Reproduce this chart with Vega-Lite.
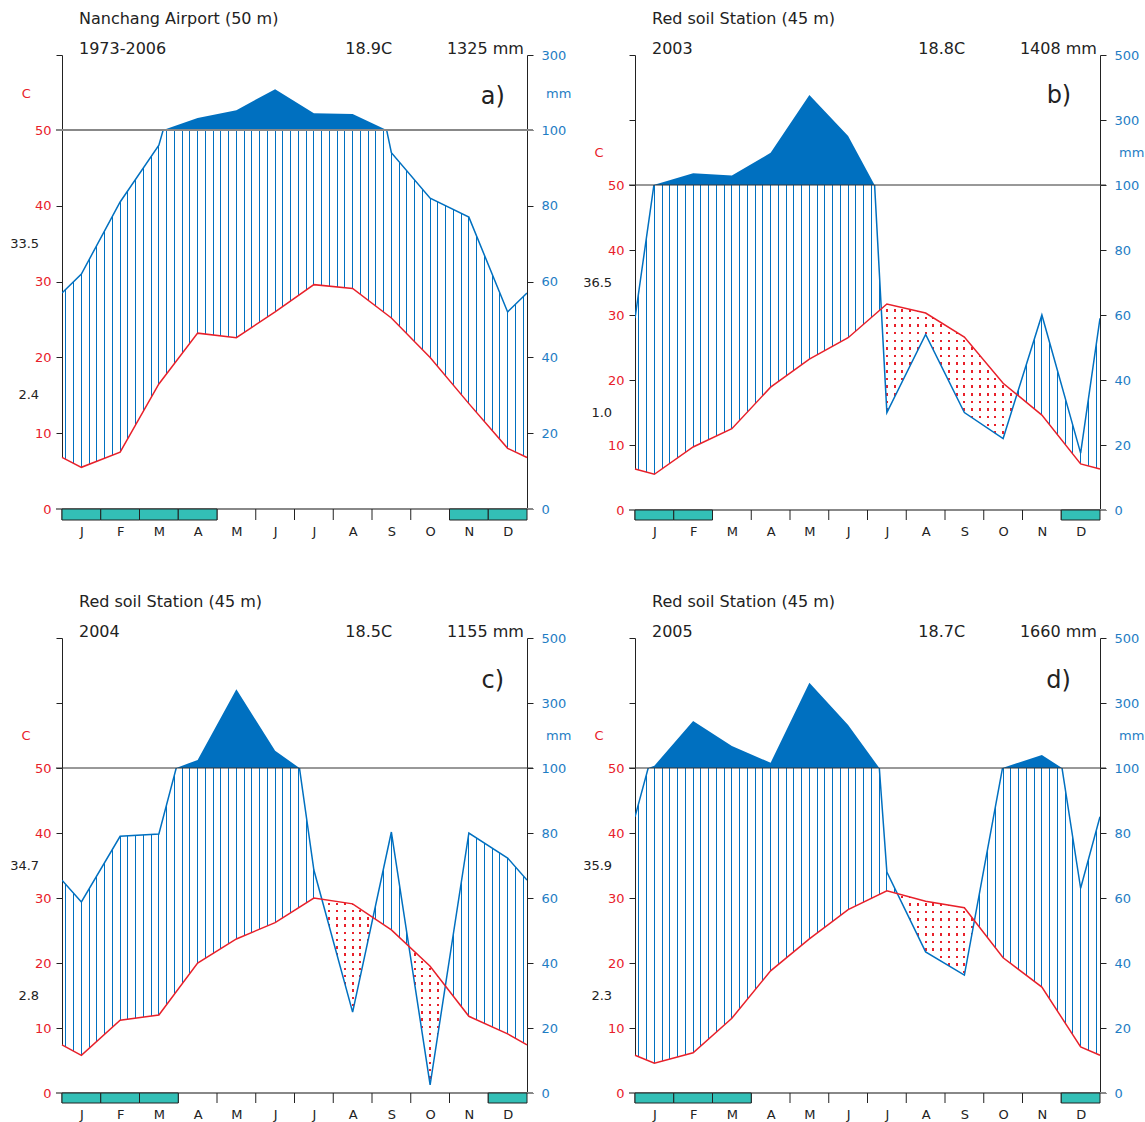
{
"$schema": "https://vega.github.io/schema/vega-lite/v6.json",
"padding": {"left": 10, "top": 11, "right": 5, "bottom": 5},
"config": {
 "font": "DejaVu Sans",
 "view": {"stroke": null},
 "axis": {"grid": false, "domainColor": "#222222", "tickColor": "#222222", "tickSize": 6, "labelFontSize": 13, "labelPadding": 5, "zindex": 1},
 "axisRight": {"labelPadding": 8},
 "title": {"anchor": "start", "frame": "group", "dx": 17, "offset": -16, "fontSize": 16, "fontWeight": "normal", "color": "#222222", "subtitleFontSize": 16, "subtitleColor": "#222222", "subtitlePadding": 14}
},
"datasets": {
 "a": [{"m":0.5,"T":6.8,"P":57},{"m":1,"T":5.5,"P":62},{"m":2,"T":7.5,"P":81},{"m":3,"T":16.5,"P":96},{"m":4,"T":23.2,"P":132},{"m":5,"T":22.6,"P":153},{"m":6,"T":26,"P":209},{"m":7,"T":29.6,"P":145},{"m":8,"T":29.1,"P":143},{"m":9,"T":25.2,"P":94},{"m":10,"T":20,"P":82},{"m":11,"T":13.9,"P":77},{"m":12,"T":8,"P":52},{"m":12.5,"T":6.8,"P":57}],
 "b": [{"m":0.5,"T":6.3,"P":59},{"m":1,"T":5.5,"P":101},{"m":2,"T":9.7,"P":136},{"m":3,"T":12.5,"P":129},{"m":4,"T":18.9,"P":199},{"m":5,"T":23.2,"P":377},{"m":6,"T":26.5,"P":251},{"m":7,"T":31.7,"P":30},{"m":8,"T":30.3,"P":54},{"m":9,"T":26.6,"P":30},{"m":10,"T":19.5,"P":22},{"m":11,"T":14.6,"P":60},{"m":12,"T":7.1,"P":17.5},{"m":12.5,"T":6.3,"P":59}],
 "c": [{"m":0.5,"T":7.4,"P":65.5},{"m":1,"T":5.8,"P":58.8},{"m":2,"T":11.2,"P":79},{"m":3,"T":12,"P":79.7},{"m":4,"T":20,"P":125},{"m":5,"T":23.7,"P":342},{"m":6,"T":26.2,"P":153},{"m":7,"T":30,"P":68.6},{"m":8,"T":29.1,"P":24.9},{"m":9,"T":25.1,"P":80.3},{"m":10,"T":19.5,"P":2.5},{"m":11,"T":11.8,"P":80},{"m":12,"T":9.1,"P":72.3},{"m":12.5,"T":7.4,"P":65.5}],
 "d": [{"m":0.5,"T":5.8,"P":85},{"m":1,"T":4.6,"P":107},{"m":2,"T":6.2,"P":245},{"m":3,"T":11.5,"P":168},{"m":4,"T":18.8,"P":116},{"m":5,"T":23.7,"P":362},{"m":6,"T":28.2,"P":232},{"m":7,"T":31.1,"P":68},{"m":8,"T":29.5,"P":43.4},{"m":9,"T":28.5,"P":36.3},{"m":10,"T":20.8,"P":101},{"m":11,"T":16.3,"P":140},{"m":12,"T":7.1,"P":63},{"m":12.5,"T":5.8,"P":85}],
 "frostA": [{"m":1},{"m":2},{"m":3},{"m":4},{"m":11},{"m":12}],
 "frostB": [{"m":1},{"m":2},{"m":12}],
 "frostC": [{"m":1},{"m":2},{"m":3},{"m":12}],
 "frostD": [{"m":1},{"m":2},{"m":3},{"m":12}],
 "months": [{"m":1},{"m":2},{"m":3},{"m":4},{"m":5},{"m":6},{"m":7},{"m":8},{"m":9},{"m":10},{"m":11},{"m":12}]
},
"spacing": 56,
"resolve": {"scale": {"x": "independent", "y": "independent"}},
"vconcat": [
{"spacing": 11, "resolve": {"scale": {"x": "independent", "y": "independent"}},
 "hconcat": [
 {"spacing": 0, "bounds": "flush", "resolve": {"scale": {"x": "independent", "y": "independent"}},
  "vconcat": [
  {"width": 465, "height": 75,
   "title": {"text": "Nanchang Airport (50 m)", "subtitle": "1973-2006"},
   "data": {"name": "a"},
   "encoding": {"x": {"field": "m", "type": "quantitative", "scale": {"domain": [0.5, 12.5]}, "axis": null}},
   "resolve": {"scale": {"y": "independent"}},
   "layer": [
    {"mark": {"type": "area", "clip": true, "color": "#0070C0"}, "encoding": {"y": {"field": "P", "type": "quantitative", "scale": {"domain": [100, 300]}, "axis": {"orient": "right", "values": [300], "labelColor": "#1E7DC4", "title": null}}, "y2": {"datum": 100}}},
    {"transform": [{"filter": "datum.m == 1"}], "mark": {"type": "text", "align": "right", "baseline": "alphabetic", "fontSize": 16, "color": "#222222"}, "encoding": {"x": {"datum": 9.02, "type": "quantitative", "scale": {"domain": [0.5, 12.5]}, "axis": null}, "y": {"datum": 302, "type": "quantitative", "scale": {"domain": [100, 300]}, "axis": {"orient": "left", "values": [300], "labels": false, "title": null}}, "text": {"value": "18.9C"}}},
    {"transform": [{"filter": "datum.m == 1"}], "mark": {"type": "text", "align": "right", "baseline": "alphabetic", "fontSize": 16, "color": "#222222"}, "encoding": {"x": {"datum": 12.42, "type": "quantitative", "scale": {"domain": [0.5, 12.5]}, "axis": null}, "y": {"datum": 302, "type": "quantitative", "scale": {"domain": [100, 300]}, "axis": null}, "text": {"value": "1325 mm"}}},
    {"transform": [{"filter": "datum.m == 1"}], "mark": {"type": "text", "align": "center", "baseline": "middle", "fontSize": 24, "color": "#222222"}, "encoding": {"x": {"datum": 11.62, "type": "quantitative", "scale": {"domain": [0.5, 12.5]}, "axis": null}, "y": {"datum": 189, "type": "quantitative", "scale": {"domain": [100, 300]}, "axis": null}, "text": {"value": "a)"}}},
    {"transform": [{"filter": "datum.m == 1"}], "mark": {"type": "text", "align": "center", "baseline": "middle", "fontSize": 13, "color": "#E8202A"}, "encoding": {"x": {"datum": -0.42, "type": "quantitative", "scale": {"domain": [0.5, 12.5]}, "axis": null}, "y": {"datum": 197, "type": "quantitative", "scale": {"domain": [100, 300]}, "axis": null}, "text": {"value": "C"}}},
    {"transform": [{"filter": "datum.m == 1"}], "mark": {"type": "text", "align": "center", "baseline": "middle", "fontSize": 13, "color": "#1E7DC4"}, "encoding": {"x": {"datum": 13.32, "type": "quantitative", "scale": {"domain": [0.5, 12.5]}, "axis": null}, "y": {"datum": 197, "type": "quantitative", "scale": {"domain": [100, 300]}, "axis": null}, "text": {"value": "mm"}}}
   ]},
  {"width": 465, "height": 379,
   "data": {"name": "a"},
   "encoding": {"x": {"field": "m", "type": "quantitative", "scale": {"domain": [0.5, 12.5]}, "axis": null}},
   "resolve": {"scale": {"y": "independent"}},
   "layer": [
    {"mark": {"type": "area", "clip": true, "fill": {"gradient": "linear", "x1": 0, "y1": 0, "x2": 1, "y2": 0, "stops": [
{"offset":0.00725,"color":"#0000"},{"offset":0.00725,"color":"#0070C0"},{"offset":0.00941,"color":"#0070C0"},{"offset":0.00941,"color":"#0000"},
{"offset":0.02392,"color":"#0000"},{"offset":0.02392,"color":"#0070C0"},{"offset":0.02608,"color":"#0070C0"},{"offset":0.02608,"color":"#0000"},
{"offset":0.04059,"color":"#0000"},{"offset":0.04059,"color":"#0070C0"},{"offset":0.04275,"color":"#0070C0"},{"offset":0.04275,"color":"#0000"},
{"offset":0.05725,"color":"#0000"},{"offset":0.05725,"color":"#0070C0"},{"offset":0.05941,"color":"#0070C0"},{"offset":0.05941,"color":"#0000"},
{"offset":0.07392,"color":"#0000"},{"offset":0.07392,"color":"#0070C0"},{"offset":0.07608,"color":"#0070C0"},{"offset":0.07608,"color":"#0000"},
{"offset":0.09059,"color":"#0000"},{"offset":0.09059,"color":"#0070C0"},{"offset":0.09275,"color":"#0070C0"},{"offset":0.09275,"color":"#0000"},
{"offset":0.10725,"color":"#0000"},{"offset":0.10725,"color":"#0070C0"},{"offset":0.10941,"color":"#0070C0"},{"offset":0.10941,"color":"#0000"},
{"offset":0.12392,"color":"#0000"},{"offset":0.12392,"color":"#0070C0"},{"offset":0.12608,"color":"#0070C0"},{"offset":0.12608,"color":"#0000"},
{"offset":0.14059,"color":"#0000"},{"offset":0.14059,"color":"#0070C0"},{"offset":0.14275,"color":"#0070C0"},{"offset":0.14275,"color":"#0000"},
{"offset":0.15725,"color":"#0000"},{"offset":0.15725,"color":"#0070C0"},{"offset":0.15941,"color":"#0070C0"},{"offset":0.15941,"color":"#0000"},
{"offset":0.17392,"color":"#0000"},{"offset":0.17392,"color":"#0070C0"},{"offset":0.17608,"color":"#0070C0"},{"offset":0.17608,"color":"#0000"},
{"offset":0.19059,"color":"#0000"},{"offset":0.19059,"color":"#0070C0"},{"offset":0.19275,"color":"#0070C0"},{"offset":0.19275,"color":"#0000"},
{"offset":0.20725,"color":"#0000"},{"offset":0.20725,"color":"#0070C0"},{"offset":0.20941,"color":"#0070C0"},{"offset":0.20941,"color":"#0000"},
{"offset":0.22392,"color":"#0000"},{"offset":0.22392,"color":"#0070C0"},{"offset":0.22608,"color":"#0070C0"},{"offset":0.22608,"color":"#0000"},
{"offset":0.24059,"color":"#0000"},{"offset":0.24059,"color":"#0070C0"},{"offset":0.24275,"color":"#0070C0"},{"offset":0.24275,"color":"#0000"},
{"offset":0.25725,"color":"#0000"},{"offset":0.25725,"color":"#0070C0"},{"offset":0.25941,"color":"#0070C0"},{"offset":0.25941,"color":"#0000"},
{"offset":0.27392,"color":"#0000"},{"offset":0.27392,"color":"#0070C0"},{"offset":0.27608,"color":"#0070C0"},{"offset":0.27608,"color":"#0000"},
{"offset":0.29059,"color":"#0000"},{"offset":0.29059,"color":"#0070C0"},{"offset":0.29275,"color":"#0070C0"},{"offset":0.29275,"color":"#0000"},
{"offset":0.30725,"color":"#0000"},{"offset":0.30725,"color":"#0070C0"},{"offset":0.30941,"color":"#0070C0"},{"offset":0.30941,"color":"#0000"},
{"offset":0.32392,"color":"#0000"},{"offset":0.32392,"color":"#0070C0"},{"offset":0.32608,"color":"#0070C0"},{"offset":0.32608,"color":"#0000"},
{"offset":0.34059,"color":"#0000"},{"offset":0.34059,"color":"#0070C0"},{"offset":0.34275,"color":"#0070C0"},{"offset":0.34275,"color":"#0000"},
{"offset":0.35725,"color":"#0000"},{"offset":0.35725,"color":"#0070C0"},{"offset":0.35941,"color":"#0070C0"},{"offset":0.35941,"color":"#0000"},
{"offset":0.37392,"color":"#0000"},{"offset":0.37392,"color":"#0070C0"},{"offset":0.37608,"color":"#0070C0"},{"offset":0.37608,"color":"#0000"},
{"offset":0.39059,"color":"#0000"},{"offset":0.39059,"color":"#0070C0"},{"offset":0.39275,"color":"#0070C0"},{"offset":0.39275,"color":"#0000"},
{"offset":0.40725,"color":"#0000"},{"offset":0.40725,"color":"#0070C0"},{"offset":0.40941,"color":"#0070C0"},{"offset":0.40941,"color":"#0000"},
{"offset":0.42392,"color":"#0000"},{"offset":0.42392,"color":"#0070C0"},{"offset":0.42608,"color":"#0070C0"},{"offset":0.42608,"color":"#0000"},
{"offset":0.44059,"color":"#0000"},{"offset":0.44059,"color":"#0070C0"},{"offset":0.44275,"color":"#0070C0"},{"offset":0.44275,"color":"#0000"},
{"offset":0.45725,"color":"#0000"},{"offset":0.45725,"color":"#0070C0"},{"offset":0.45941,"color":"#0070C0"},{"offset":0.45941,"color":"#0000"},
{"offset":0.47392,"color":"#0000"},{"offset":0.47392,"color":"#0070C0"},{"offset":0.47608,"color":"#0070C0"},{"offset":0.47608,"color":"#0000"},
{"offset":0.49059,"color":"#0000"},{"offset":0.49059,"color":"#0070C0"},{"offset":0.49275,"color":"#0070C0"},{"offset":0.49275,"color":"#0000"},
{"offset":0.50725,"color":"#0000"},{"offset":0.50725,"color":"#0070C0"},{"offset":0.50941,"color":"#0070C0"},{"offset":0.50941,"color":"#0000"},
{"offset":0.52392,"color":"#0000"},{"offset":0.52392,"color":"#0070C0"},{"offset":0.52608,"color":"#0070C0"},{"offset":0.52608,"color":"#0000"},
{"offset":0.54059,"color":"#0000"},{"offset":0.54059,"color":"#0070C0"},{"offset":0.54275,"color":"#0070C0"},{"offset":0.54275,"color":"#0000"},
{"offset":0.55725,"color":"#0000"},{"offset":0.55725,"color":"#0070C0"},{"offset":0.55941,"color":"#0070C0"},{"offset":0.55941,"color":"#0000"},
{"offset":0.57392,"color":"#0000"},{"offset":0.57392,"color":"#0070C0"},{"offset":0.57608,"color":"#0070C0"},{"offset":0.57608,"color":"#0000"},
{"offset":0.59059,"color":"#0000"},{"offset":0.59059,"color":"#0070C0"},{"offset":0.59275,"color":"#0070C0"},{"offset":0.59275,"color":"#0000"},
{"offset":0.60725,"color":"#0000"},{"offset":0.60725,"color":"#0070C0"},{"offset":0.60941,"color":"#0070C0"},{"offset":0.60941,"color":"#0000"},
{"offset":0.62392,"color":"#0000"},{"offset":0.62392,"color":"#0070C0"},{"offset":0.62608,"color":"#0070C0"},{"offset":0.62608,"color":"#0000"},
{"offset":0.64059,"color":"#0000"},{"offset":0.64059,"color":"#0070C0"},{"offset":0.64275,"color":"#0070C0"},{"offset":0.64275,"color":"#0000"},
{"offset":0.65725,"color":"#0000"},{"offset":0.65725,"color":"#0070C0"},{"offset":0.65941,"color":"#0070C0"},{"offset":0.65941,"color":"#0000"},
{"offset":0.67392,"color":"#0000"},{"offset":0.67392,"color":"#0070C0"},{"offset":0.67608,"color":"#0070C0"},{"offset":0.67608,"color":"#0000"},
{"offset":0.69059,"color":"#0000"},{"offset":0.69059,"color":"#0070C0"},{"offset":0.69275,"color":"#0070C0"},{"offset":0.69275,"color":"#0000"},
{"offset":0.70725,"color":"#0000"},{"offset":0.70725,"color":"#0070C0"},{"offset":0.70941,"color":"#0070C0"},{"offset":0.70941,"color":"#0000"},
{"offset":0.72392,"color":"#0000"},{"offset":0.72392,"color":"#0070C0"},{"offset":0.72608,"color":"#0070C0"},{"offset":0.72608,"color":"#0000"},
{"offset":0.74059,"color":"#0000"},{"offset":0.74059,"color":"#0070C0"},{"offset":0.74275,"color":"#0070C0"},{"offset":0.74275,"color":"#0000"},
{"offset":0.75725,"color":"#0000"},{"offset":0.75725,"color":"#0070C0"},{"offset":0.75941,"color":"#0070C0"},{"offset":0.75941,"color":"#0000"},
{"offset":0.77392,"color":"#0000"},{"offset":0.77392,"color":"#0070C0"},{"offset":0.77608,"color":"#0070C0"},{"offset":0.77608,"color":"#0000"},
{"offset":0.79059,"color":"#0000"},{"offset":0.79059,"color":"#0070C0"},{"offset":0.79275,"color":"#0070C0"},{"offset":0.79275,"color":"#0000"},
{"offset":0.80725,"color":"#0000"},{"offset":0.80725,"color":"#0070C0"},{"offset":0.80941,"color":"#0070C0"},{"offset":0.80941,"color":"#0000"},
{"offset":0.82392,"color":"#0000"},{"offset":0.82392,"color":"#0070C0"},{"offset":0.82608,"color":"#0070C0"},{"offset":0.82608,"color":"#0000"},
{"offset":0.84059,"color":"#0000"},{"offset":0.84059,"color":"#0070C0"},{"offset":0.84275,"color":"#0070C0"},{"offset":0.84275,"color":"#0000"},
{"offset":0.85725,"color":"#0000"},{"offset":0.85725,"color":"#0070C0"},{"offset":0.85941,"color":"#0070C0"},{"offset":0.85941,"color":"#0000"},
{"offset":0.87392,"color":"#0000"},{"offset":0.87392,"color":"#0070C0"},{"offset":0.87608,"color":"#0070C0"},{"offset":0.87608,"color":"#0000"},
{"offset":0.89059,"color":"#0000"},{"offset":0.89059,"color":"#0070C0"},{"offset":0.89275,"color":"#0070C0"},{"offset":0.89275,"color":"#0000"},
{"offset":0.90725,"color":"#0000"},{"offset":0.90725,"color":"#0070C0"},{"offset":0.90941,"color":"#0070C0"},{"offset":0.90941,"color":"#0000"},
{"offset":0.92392,"color":"#0000"},{"offset":0.92392,"color":"#0070C0"},{"offset":0.92608,"color":"#0070C0"},{"offset":0.92608,"color":"#0000"},
{"offset":0.94059,"color":"#0000"},{"offset":0.94059,"color":"#0070C0"},{"offset":0.94275,"color":"#0070C0"},{"offset":0.94275,"color":"#0000"},
{"offset":0.95725,"color":"#0000"},{"offset":0.95725,"color":"#0070C0"},{"offset":0.95941,"color":"#0070C0"},{"offset":0.95941,"color":"#0000"},
{"offset":0.97392,"color":"#0000"},{"offset":0.97392,"color":"#0070C0"},{"offset":0.97608,"color":"#0070C0"},{"offset":0.97608,"color":"#0000"},
{"offset":0.99059,"color":"#0000"},{"offset":0.99059,"color":"#0070C0"},{"offset":0.99275,"color":"#0070C0"},{"offset":0.99275,"color":"#0000"}
    ]}}, "encoding": {"y": {"field": "P", "type": "quantitative", "scale": {"domain": [0, 100]}, "axis": {"orient": "right", "values": [0, 20, 40, 60, 80, 100], "labelColor": "#1E7DC4", "title": null}}, "y2": {"datum": 0}}},
    {"mark": {"type": "area", "fill": "#ffffff"}, "encoding": {"y": {"field": "T", "type": "quantitative", "scale": {"domain": [0, 50]}, "axis": {"orient": "left", "values": [0, 10, 20, 30, 40, 50], "labelColor": "#E8202A", "title": null}}, "y2": {"datum": 0}}},
    {"mark": {"type": "line", "clip": true, "color": "#0070C0", "strokeWidth": 1.5}, "encoding": {"y": {"field": "P", "type": "quantitative", "scale": {"domain": [0, 100]}, "axis": null}}},
    {"mark": {"type": "line", "color": "#E8202A", "strokeWidth": 1.5}, "encoding": {"y": {"field": "T", "type": "quantitative", "scale": {"domain": [0, 50]}, "axis": null}}},
    {"transform": [{"filter": "datum.m == 1"}], "mark": {"type": "rule", "color": "#888888", "strokeWidth": 2}, "encoding": {"x": {"datum": 0.345, "type": "quantitative", "scale": {"domain": [0.5, 12.5]}, "axis": null}, "x2": {"datum": 12.655}, "y": {"datum": 0, "type": "quantitative", "scale": {"domain": [0, 100]}, "axis": null}}},
    {"transform": [{"filter": "datum.m == 1"}], "mark": {"type": "rule", "color": "#888888", "strokeWidth": 2}, "encoding": {"x": {"datum": 0.345, "type": "quantitative", "scale": {"domain": [0.5, 12.5]}, "axis": null}, "x2": {"datum": 12.655}, "y": {"datum": 100, "type": "quantitative", "scale": {"domain": [0, 100]}, "axis": null}}},
    {"transform": [{"filter": "datum.m == 1"}], "mark": {"type": "text", "align": "right", "baseline": "middle", "fontSize": 13, "color": "#222222"}, "encoding": {"x": {"datum": -0.09, "type": "quantitative", "scale": {"domain": [0.5, 12.5]}, "axis": null}, "y": {"datum": 35, "type": "quantitative", "scale": {"domain": [0, 50]}, "axis": null}, "text": {"value": "33.5"}}},
    {"transform": [{"filter": "datum.m == 1"}], "mark": {"type": "text", "align": "right", "baseline": "middle", "fontSize": 13, "color": "#222222"}, "encoding": {"x": {"datum": -0.09, "type": "quantitative", "scale": {"domain": [0.5, 12.5]}, "axis": null}, "y": {"datum": 15, "type": "quantitative", "scale": {"domain": [0, 50]}, "axis": null}, "text": {"value": "2.4"}}}
   ]},
  {"width": 465, "height": 11,
   "layer": [
    {"data": {"name": "months"}, "mark": {"type": "rule", "color": "#222222", "strokeWidth": 1, "xOffset": -19.375}, "encoding": {"x": {"field": "m", "type": "quantitative", "scale": {"domain": [0.5, 12.5]}, "axis": {"orient": "bottom", "values": [1,2,3,4,5,6,7,8,9,10,11,12], "labelExpr": "['J','F','M','A','M','J','J','A','S','O','N','D'][datum.value-1]", "ticks": false, "tickSize": 0, "domain": false, "labelFlush": false, "labelOverlap": false, "labelFontSize": 13, "labelColor": "#222222", "labelPadding": 5, "title": null, "zindex": 0}}, "y": {"datum": 0, "type": "quantitative", "scale": {"domain": [0, 1]}, "axis": null}, "y2": {"datum": 1}}},
    {"data": {"name": "frostA"}, "mark": {"type": "rect", "fill": "#33BFB6", "stroke": "#222222", "strokeWidth": 1, "xOffset": -19.375, "x2Offset": 19.375}, "encoding": {"x": {"field": "m", "type": "quantitative", "scale": {"domain": [0.5, 12.5]}}, "x2": {"field": "m"}, "y": {"datum": 0, "type": "quantitative", "scale": {"domain": [0, 1]}, "axis": null}, "y2": {"datum": 1}}}
   ]}
  ]},
 {"spacing": 0, "bounds": "flush", "resolve": {"scale": {"x": "independent", "y": "independent"}},
  "vconcat": [
  {"width": 465, "height": 130,
   "title": {"text": "Red soil Station (45 m)", "subtitle": "2003"},
   "data": {"name": "b"},
   "encoding": {"x": {"field": "m", "type": "quantitative", "scale": {"domain": [0.5, 12.5]}, "axis": null}},
   "resolve": {"scale": {"y": "independent"}},
   "layer": [
    {"mark": {"type": "area", "clip": true, "color": "#0070C0"}, "encoding": {"y": {"field": "P", "type": "quantitative", "scale": {"domain": [100, 500]}, "axis": {"orient": "right", "values": [300, 500], "labelColor": "#1E7DC4", "title": null}}, "y2": {"datum": 100}}},
    {"transform": [{"filter": "datum.m == 1"}], "mark": {"type": "text", "align": "right", "baseline": "alphabetic", "fontSize": 16, "color": "#222222"}, "encoding": {"x": {"datum": 9.02, "type": "quantitative", "scale": {"domain": [0.5, 12.5]}, "axis": null}, "y": {"datum": 502, "type": "quantitative", "scale": {"domain": [100, 500]}, "axis": {"orient": "left", "values": [300, 500], "labels": false, "title": null}}, "text": {"value": "18.8C"}}},
    {"transform": [{"filter": "datum.m == 1"}], "mark": {"type": "text", "align": "right", "baseline": "alphabetic", "fontSize": 16, "color": "#222222"}, "encoding": {"x": {"datum": 12.42, "type": "quantitative", "scale": {"domain": [0.5, 12.5]}, "axis": null}, "y": {"datum": 502, "type": "quantitative", "scale": {"domain": [100, 500]}, "axis": null}, "text": {"value": "1408 mm"}}},
    {"transform": [{"filter": "datum.m == 1"}], "mark": {"type": "text", "align": "center", "baseline": "middle", "fontSize": 24, "color": "#222222"}, "encoding": {"x": {"datum": 11.44, "type": "quantitative", "scale": {"domain": [0.5, 12.5]}, "axis": null}, "y": {"datum": 375, "type": "quantitative", "scale": {"domain": [100, 500]}, "axis": null}, "text": {"value": "b)"}}},
    {"transform": [{"filter": "datum.m == 1"}], "mark": {"type": "text", "align": "center", "baseline": "middle", "fontSize": 13, "color": "#E8202A"}, "encoding": {"x": {"datum": -0.43, "type": "quantitative", "scale": {"domain": [0.5, 12.5]}, "axis": null}, "y": {"datum": 198, "type": "quantitative", "scale": {"domain": [100, 500]}, "axis": null}, "text": {"value": "C"}}},
    {"transform": [{"filter": "datum.m == 1"}], "mark": {"type": "text", "align": "center", "baseline": "middle", "fontSize": 13, "color": "#1E7DC4"}, "encoding": {"x": {"datum": 13.32, "type": "quantitative", "scale": {"domain": [0.5, 12.5]}, "axis": null}, "y": {"datum": 198, "type": "quantitative", "scale": {"domain": [100, 500]}, "axis": null}, "text": {"value": "mm"}}}
   ]},
  {"width": 465, "height": 325,
   "data": {"name": "b"},
   "encoding": {"x": {"field": "m", "type": "quantitative", "scale": {"domain": [0.5, 12.5]}, "axis": null}},
   "resolve": {"scale": {"y": "independent"}},
   "layer": [
    {"mark": {"type": "area", "clip": true, "fill": {"gradient": "linear", "x1": 0, "y1": 0, "x2": 1, "y2": 0, "stops": [
{"offset":0.00725,"color":"#0000"},{"offset":0.00725,"color":"#0070C0"},{"offset":0.00941,"color":"#0070C0"},{"offset":0.00941,"color":"#0000"},
{"offset":0.02392,"color":"#0000"},{"offset":0.02392,"color":"#0070C0"},{"offset":0.02608,"color":"#0070C0"},{"offset":0.02608,"color":"#0000"},
{"offset":0.04059,"color":"#0000"},{"offset":0.04059,"color":"#0070C0"},{"offset":0.04275,"color":"#0070C0"},{"offset":0.04275,"color":"#0000"},
{"offset":0.05725,"color":"#0000"},{"offset":0.05725,"color":"#0070C0"},{"offset":0.05941,"color":"#0070C0"},{"offset":0.05941,"color":"#0000"},
{"offset":0.07392,"color":"#0000"},{"offset":0.07392,"color":"#0070C0"},{"offset":0.07608,"color":"#0070C0"},{"offset":0.07608,"color":"#0000"},
{"offset":0.09059,"color":"#0000"},{"offset":0.09059,"color":"#0070C0"},{"offset":0.09275,"color":"#0070C0"},{"offset":0.09275,"color":"#0000"},
{"offset":0.10725,"color":"#0000"},{"offset":0.10725,"color":"#0070C0"},{"offset":0.10941,"color":"#0070C0"},{"offset":0.10941,"color":"#0000"},
{"offset":0.12392,"color":"#0000"},{"offset":0.12392,"color":"#0070C0"},{"offset":0.12608,"color":"#0070C0"},{"offset":0.12608,"color":"#0000"},
{"offset":0.14059,"color":"#0000"},{"offset":0.14059,"color":"#0070C0"},{"offset":0.14275,"color":"#0070C0"},{"offset":0.14275,"color":"#0000"},
{"offset":0.15725,"color":"#0000"},{"offset":0.15725,"color":"#0070C0"},{"offset":0.15941,"color":"#0070C0"},{"offset":0.15941,"color":"#0000"},
{"offset":0.17392,"color":"#0000"},{"offset":0.17392,"color":"#0070C0"},{"offset":0.17608,"color":"#0070C0"},{"offset":0.17608,"color":"#0000"},
{"offset":0.19059,"color":"#0000"},{"offset":0.19059,"color":"#0070C0"},{"offset":0.19275,"color":"#0070C0"},{"offset":0.19275,"color":"#0000"},
{"offset":0.20725,"color":"#0000"},{"offset":0.20725,"color":"#0070C0"},{"offset":0.20941,"color":"#0070C0"},{"offset":0.20941,"color":"#0000"},
{"offset":0.22392,"color":"#0000"},{"offset":0.22392,"color":"#0070C0"},{"offset":0.22608,"color":"#0070C0"},{"offset":0.22608,"color":"#0000"},
{"offset":0.24059,"color":"#0000"},{"offset":0.24059,"color":"#0070C0"},{"offset":0.24275,"color":"#0070C0"},{"offset":0.24275,"color":"#0000"},
{"offset":0.25725,"color":"#0000"},{"offset":0.25725,"color":"#0070C0"},{"offset":0.25941,"color":"#0070C0"},{"offset":0.25941,"color":"#0000"},
{"offset":0.27392,"color":"#0000"},{"offset":0.27392,"color":"#0070C0"},{"offset":0.27608,"color":"#0070C0"},{"offset":0.27608,"color":"#0000"},
{"offset":0.29059,"color":"#0000"},{"offset":0.29059,"color":"#0070C0"},{"offset":0.29275,"color":"#0070C0"},{"offset":0.29275,"color":"#0000"},
{"offset":0.30725,"color":"#0000"},{"offset":0.30725,"color":"#0070C0"},{"offset":0.30941,"color":"#0070C0"},{"offset":0.30941,"color":"#0000"},
{"offset":0.32392,"color":"#0000"},{"offset":0.32392,"color":"#0070C0"},{"offset":0.32608,"color":"#0070C0"},{"offset":0.32608,"color":"#0000"},
{"offset":0.34059,"color":"#0000"},{"offset":0.34059,"color":"#0070C0"},{"offset":0.34275,"color":"#0070C0"},{"offset":0.34275,"color":"#0000"},
{"offset":0.35725,"color":"#0000"},{"offset":0.35725,"color":"#0070C0"},{"offset":0.35941,"color":"#0070C0"},{"offset":0.35941,"color":"#0000"},
{"offset":0.37392,"color":"#0000"},{"offset":0.37392,"color":"#0070C0"},{"offset":0.37608,"color":"#0070C0"},{"offset":0.37608,"color":"#0000"},
{"offset":0.39059,"color":"#0000"},{"offset":0.39059,"color":"#0070C0"},{"offset":0.39275,"color":"#0070C0"},{"offset":0.39275,"color":"#0000"},
{"offset":0.40725,"color":"#0000"},{"offset":0.40725,"color":"#0070C0"},{"offset":0.40941,"color":"#0070C0"},{"offset":0.40941,"color":"#0000"},
{"offset":0.42392,"color":"#0000"},{"offset":0.42392,"color":"#0070C0"},{"offset":0.42608,"color":"#0070C0"},{"offset":0.42608,"color":"#0000"},
{"offset":0.44059,"color":"#0000"},{"offset":0.44059,"color":"#0070C0"},{"offset":0.44275,"color":"#0070C0"},{"offset":0.44275,"color":"#0000"},
{"offset":0.45725,"color":"#0000"},{"offset":0.45725,"color":"#0070C0"},{"offset":0.45941,"color":"#0070C0"},{"offset":0.45941,"color":"#0000"},
{"offset":0.47392,"color":"#0000"},{"offset":0.47392,"color":"#0070C0"},{"offset":0.47608,"color":"#0070C0"},{"offset":0.47608,"color":"#0000"},
{"offset":0.49059,"color":"#0000"},{"offset":0.49059,"color":"#0070C0"},{"offset":0.49275,"color":"#0070C0"},{"offset":0.49275,"color":"#0000"},
{"offset":0.50725,"color":"#0000"},{"offset":0.50725,"color":"#0070C0"},{"offset":0.50941,"color":"#0070C0"},{"offset":0.50941,"color":"#0000"},
{"offset":0.52392,"color":"#0000"},{"offset":0.52392,"color":"#0070C0"},{"offset":0.52608,"color":"#0070C0"},{"offset":0.52608,"color":"#0000"},
{"offset":0.54059,"color":"#0000"},{"offset":0.54059,"color":"#0070C0"},{"offset":0.54275,"color":"#0070C0"},{"offset":0.54275,"color":"#0000"},
{"offset":0.55725,"color":"#0000"},{"offset":0.55725,"color":"#0070C0"},{"offset":0.55941,"color":"#0070C0"},{"offset":0.55941,"color":"#0000"},
{"offset":0.57392,"color":"#0000"},{"offset":0.57392,"color":"#0070C0"},{"offset":0.57608,"color":"#0070C0"},{"offset":0.57608,"color":"#0000"},
{"offset":0.59059,"color":"#0000"},{"offset":0.59059,"color":"#0070C0"},{"offset":0.59275,"color":"#0070C0"},{"offset":0.59275,"color":"#0000"},
{"offset":0.60725,"color":"#0000"},{"offset":0.60725,"color":"#0070C0"},{"offset":0.60941,"color":"#0070C0"},{"offset":0.60941,"color":"#0000"},
{"offset":0.62392,"color":"#0000"},{"offset":0.62392,"color":"#0070C0"},{"offset":0.62608,"color":"#0070C0"},{"offset":0.62608,"color":"#0000"},
{"offset":0.64059,"color":"#0000"},{"offset":0.64059,"color":"#0070C0"},{"offset":0.64275,"color":"#0070C0"},{"offset":0.64275,"color":"#0000"},
{"offset":0.65725,"color":"#0000"},{"offset":0.65725,"color":"#0070C0"},{"offset":0.65941,"color":"#0070C0"},{"offset":0.65941,"color":"#0000"},
{"offset":0.67392,"color":"#0000"},{"offset":0.67392,"color":"#0070C0"},{"offset":0.67608,"color":"#0070C0"},{"offset":0.67608,"color":"#0000"},
{"offset":0.69059,"color":"#0000"},{"offset":0.69059,"color":"#0070C0"},{"offset":0.69275,"color":"#0070C0"},{"offset":0.69275,"color":"#0000"},
{"offset":0.70725,"color":"#0000"},{"offset":0.70725,"color":"#0070C0"},{"offset":0.70941,"color":"#0070C0"},{"offset":0.70941,"color":"#0000"},
{"offset":0.72392,"color":"#0000"},{"offset":0.72392,"color":"#0070C0"},{"offset":0.72608,"color":"#0070C0"},{"offset":0.72608,"color":"#0000"},
{"offset":0.74059,"color":"#0000"},{"offset":0.74059,"color":"#0070C0"},{"offset":0.74275,"color":"#0070C0"},{"offset":0.74275,"color":"#0000"},
{"offset":0.75725,"color":"#0000"},{"offset":0.75725,"color":"#0070C0"},{"offset":0.75941,"color":"#0070C0"},{"offset":0.75941,"color":"#0000"},
{"offset":0.77392,"color":"#0000"},{"offset":0.77392,"color":"#0070C0"},{"offset":0.77608,"color":"#0070C0"},{"offset":0.77608,"color":"#0000"},
{"offset":0.79059,"color":"#0000"},{"offset":0.79059,"color":"#0070C0"},{"offset":0.79275,"color":"#0070C0"},{"offset":0.79275,"color":"#0000"},
{"offset":0.80725,"color":"#0000"},{"offset":0.80725,"color":"#0070C0"},{"offset":0.80941,"color":"#0070C0"},{"offset":0.80941,"color":"#0000"},
{"offset":0.82392,"color":"#0000"},{"offset":0.82392,"color":"#0070C0"},{"offset":0.82608,"color":"#0070C0"},{"offset":0.82608,"color":"#0000"},
{"offset":0.84059,"color":"#0000"},{"offset":0.84059,"color":"#0070C0"},{"offset":0.84275,"color":"#0070C0"},{"offset":0.84275,"color":"#0000"},
{"offset":0.85725,"color":"#0000"},{"offset":0.85725,"color":"#0070C0"},{"offset":0.85941,"color":"#0070C0"},{"offset":0.85941,"color":"#0000"},
{"offset":0.87392,"color":"#0000"},{"offset":0.87392,"color":"#0070C0"},{"offset":0.87608,"color":"#0070C0"},{"offset":0.87608,"color":"#0000"},
{"offset":0.89059,"color":"#0000"},{"offset":0.89059,"color":"#0070C0"},{"offset":0.89275,"color":"#0070C0"},{"offset":0.89275,"color":"#0000"},
{"offset":0.90725,"color":"#0000"},{"offset":0.90725,"color":"#0070C0"},{"offset":0.90941,"color":"#0070C0"},{"offset":0.90941,"color":"#0000"},
{"offset":0.92392,"color":"#0000"},{"offset":0.92392,"color":"#0070C0"},{"offset":0.92608,"color":"#0070C0"},{"offset":0.92608,"color":"#0000"},
{"offset":0.94059,"color":"#0000"},{"offset":0.94059,"color":"#0070C0"},{"offset":0.94275,"color":"#0070C0"},{"offset":0.94275,"color":"#0000"},
{"offset":0.95725,"color":"#0000"},{"offset":0.95725,"color":"#0070C0"},{"offset":0.95941,"color":"#0070C0"},{"offset":0.95941,"color":"#0000"},
{"offset":0.97392,"color":"#0000"},{"offset":0.97392,"color":"#0070C0"},{"offset":0.97608,"color":"#0070C0"},{"offset":0.97608,"color":"#0000"},
{"offset":0.99059,"color":"#0000"},{"offset":0.99059,"color":"#0070C0"},{"offset":0.99275,"color":"#0070C0"},{"offset":0.99275,"color":"#0000"}
    ]}}, "encoding": {"y": {"field": "P", "type": "quantitative", "scale": {"domain": [0, 100]}, "axis": {"orient": "right", "values": [0, 20, 40, 60, 80, 100], "labelColor": "#1E7DC4", "title": null}}, "y2": {"datum": 0}}},
    {"mark": {"type": "area", "fill": "#ffffff"}, "encoding": {"y": {"field": "T", "type": "quantitative", "scale": {"domain": [0, 50]}, "axis": {"orient": "left", "values": [0, 10, 20, 30, 40, 50], "labelColor": "#E8202A", "title": null}}, "y2": {"datum": 0}}},
    {"mark": {"type": "area", "fill": {"gradient": "linear", "x1": 0, "y1": 0, "x2": 1, "y2": 0, "stops": [
{"offset":0.53952,"color":"#0000"},{"offset":0.53952,"color":"#E8212B"},{"offset":0.54382,"color":"#E8212B"},{"offset":0.54382,"color":"#0000"},
{"offset":0.55618,"color":"#0000"},{"offset":0.55618,"color":"#E8212B"},{"offset":0.56048,"color":"#E8212B"},{"offset":0.56048,"color":"#0000"},
{"offset":0.57285,"color":"#0000"},{"offset":0.57285,"color":"#E8212B"},{"offset":0.57715,"color":"#E8212B"},{"offset":0.57715,"color":"#0000"},
{"offset":0.58952,"color":"#0000"},{"offset":0.58952,"color":"#E8212B"},{"offset":0.59382,"color":"#E8212B"},{"offset":0.59382,"color":"#0000"},
{"offset":0.60618,"color":"#0000"},{"offset":0.60618,"color":"#E8212B"},{"offset":0.61048,"color":"#E8212B"},{"offset":0.61048,"color":"#0000"},
{"offset":0.62285,"color":"#0000"},{"offset":0.62285,"color":"#E8212B"},{"offset":0.62715,"color":"#E8212B"},{"offset":0.62715,"color":"#0000"},
{"offset":0.63952,"color":"#0000"},{"offset":0.63952,"color":"#E8212B"},{"offset":0.64382,"color":"#E8212B"},{"offset":0.64382,"color":"#0000"},
{"offset":0.65618,"color":"#0000"},{"offset":0.65618,"color":"#E8212B"},{"offset":0.66048,"color":"#E8212B"},{"offset":0.66048,"color":"#0000"},
{"offset":0.67285,"color":"#0000"},{"offset":0.67285,"color":"#E8212B"},{"offset":0.67715,"color":"#E8212B"},{"offset":0.67715,"color":"#0000"},
{"offset":0.68952,"color":"#0000"},{"offset":0.68952,"color":"#E8212B"},{"offset":0.69382,"color":"#E8212B"},{"offset":0.69382,"color":"#0000"},
{"offset":0.70618,"color":"#0000"},{"offset":0.70618,"color":"#E8212B"},{"offset":0.71048,"color":"#E8212B"},{"offset":0.71048,"color":"#0000"},
{"offset":0.72285,"color":"#0000"},{"offset":0.72285,"color":"#E8212B"},{"offset":0.72715,"color":"#E8212B"},{"offset":0.72715,"color":"#0000"},
{"offset":0.73952,"color":"#0000"},{"offset":0.73952,"color":"#E8212B"},{"offset":0.74382,"color":"#E8212B"},{"offset":0.74382,"color":"#0000"},
{"offset":0.75618,"color":"#0000"},{"offset":0.75618,"color":"#E8212B"},{"offset":0.76048,"color":"#E8212B"},{"offset":0.76048,"color":"#0000"},
{"offset":0.77285,"color":"#0000"},{"offset":0.77285,"color":"#E8212B"},{"offset":0.77715,"color":"#E8212B"},{"offset":0.77715,"color":"#0000"},
{"offset":0.78952,"color":"#0000"},{"offset":0.78952,"color":"#E8212B"},{"offset":0.79382,"color":"#E8212B"},{"offset":0.79382,"color":"#0000"},
{"offset":0.80618,"color":"#0000"},{"offset":0.80618,"color":"#E8212B"},{"offset":0.81048,"color":"#E8212B"},{"offset":0.81048,"color":"#0000"}
    ]}}, "encoding": {"y": {"field": "T", "type": "quantitative", "scale": {"domain": [0, 50]}, "axis": null}, "y2": {"datum": 0}}},
    {"mark": {"type": "area", "fill": {"gradient": "linear", "x1": 0, "y1": 0, "x2": 0, "y2": 1, "stops": [
{"offset":0,"color":"#fff"},{"offset":0.0247,"color":"#fff"},{"offset":0.0247,"color":"#0000"},{"offset":0.03704,"color":"#0000"},
{"offset":0.03704,"color":"#fff"},{"offset":0.06174,"color":"#fff"},{"offset":0.06174,"color":"#0000"},{"offset":0.07407,"color":"#0000"},
{"offset":0.07407,"color":"#fff"},{"offset":0.09877,"color":"#fff"},{"offset":0.09877,"color":"#0000"},{"offset":0.11111,"color":"#0000"},
{"offset":0.11111,"color":"#fff"},{"offset":0.13581,"color":"#fff"},{"offset":0.13581,"color":"#0000"},{"offset":0.14815,"color":"#0000"},
{"offset":0.14815,"color":"#fff"},{"offset":0.17285,"color":"#fff"},{"offset":0.17285,"color":"#0000"},{"offset":0.18519,"color":"#0000"},
{"offset":0.18519,"color":"#fff"},{"offset":0.20989,"color":"#fff"},{"offset":0.20989,"color":"#0000"},{"offset":0.22222,"color":"#0000"},
{"offset":0.22222,"color":"#fff"},{"offset":0.24692,"color":"#fff"},{"offset":0.24692,"color":"#0000"},{"offset":0.25926,"color":"#0000"},
{"offset":0.25926,"color":"#fff"},{"offset":0.28396,"color":"#fff"},{"offset":0.28396,"color":"#0000"},{"offset":0.2963,"color":"#0000"},
{"offset":0.2963,"color":"#fff"},{"offset":0.321,"color":"#fff"},{"offset":0.321,"color":"#0000"},{"offset":0.33333,"color":"#0000"},
{"offset":0.33333,"color":"#fff"},{"offset":0.35803,"color":"#fff"},{"offset":0.35803,"color":"#0000"},{"offset":0.37037,"color":"#0000"},
{"offset":0.37037,"color":"#fff"},{"offset":0.39507,"color":"#fff"},{"offset":0.39507,"color":"#0000"},{"offset":0.40741,"color":"#0000"},
{"offset":0.40741,"color":"#fff"},{"offset":0.43211,"color":"#fff"},{"offset":0.43211,"color":"#0000"},{"offset":0.44444,"color":"#0000"},
{"offset":0.44444,"color":"#fff"},{"offset":0.46914,"color":"#fff"},{"offset":0.46914,"color":"#0000"},{"offset":0.48148,"color":"#0000"},
{"offset":0.48148,"color":"#fff"},{"offset":0.50618,"color":"#fff"},{"offset":0.50618,"color":"#0000"},{"offset":0.51852,"color":"#0000"},
{"offset":0.51852,"color":"#fff"},{"offset":0.54322,"color":"#fff"},{"offset":0.54322,"color":"#0000"},{"offset":0.55556,"color":"#0000"},
{"offset":0.55556,"color":"#fff"},{"offset":0.58026,"color":"#fff"},{"offset":0.58026,"color":"#0000"},{"offset":0.59259,"color":"#0000"},
{"offset":0.59259,"color":"#fff"},{"offset":0.61729,"color":"#fff"},{"offset":0.61729,"color":"#0000"},{"offset":0.62963,"color":"#0000"},
{"offset":0.62963,"color":"#fff"},{"offset":0.65433,"color":"#fff"},{"offset":0.65433,"color":"#0000"},{"offset":0.66667,"color":"#0000"},
{"offset":0.66667,"color":"#fff"},{"offset":0.69137,"color":"#fff"},{"offset":0.69137,"color":"#0000"},{"offset":0.7037,"color":"#0000"},
{"offset":0.7037,"color":"#fff"},{"offset":0.7284,"color":"#fff"},{"offset":0.7284,"color":"#0000"},{"offset":0.74074,"color":"#0000"},
{"offset":0.74074,"color":"#fff"},{"offset":0.76544,"color":"#fff"},{"offset":0.76544,"color":"#0000"},{"offset":0.77778,"color":"#0000"},
{"offset":0.77778,"color":"#fff"},{"offset":0.80248,"color":"#fff"},{"offset":0.80248,"color":"#0000"},{"offset":0.81481,"color":"#0000"},
{"offset":0.81481,"color":"#fff"},{"offset":0.83951,"color":"#fff"},{"offset":0.83951,"color":"#0000"},{"offset":0.85185,"color":"#0000"},
{"offset":0.85185,"color":"#fff"},{"offset":0.87655,"color":"#fff"},{"offset":0.87655,"color":"#0000"},{"offset":0.88889,"color":"#0000"},
{"offset":0.88889,"color":"#fff"},{"offset":0.91359,"color":"#fff"},{"offset":0.91359,"color":"#0000"},{"offset":0.92593,"color":"#0000"},
{"offset":0.92593,"color":"#fff"},{"offset":0.95063,"color":"#fff"},{"offset":0.95063,"color":"#0000"},{"offset":0.96296,"color":"#0000"},
{"offset":0.96296,"color":"#fff"},{"offset":0.98766,"color":"#fff"},{"offset":0.98766,"color":"#0000"},{"offset":1,"color":"#0000"}
    ]}}, "encoding": {"y": {"field": "T", "type": "quantitative", "scale": {"domain": [0, 50]}, "axis": null}, "y2": {"datum": 0}}},
    {"mark": {"type": "area", "clip": true, "fill": {"gradient": "linear", "x1": 0, "y1": 0, "x2": 1, "y2": 0, "stops": [
{"offset":0.52967,"color":"#0000"},{"offset":0.52967,"color":"#ffffff"},{"offset":0.82133,"color":"#ffffff"},{"offset":0.82133,"color":"#0000"}
    ]}}, "encoding": {"y": {"field": "P", "type": "quantitative", "scale": {"domain": [0, 100]}, "axis": null}, "y2": {"datum": 0}}},
    {"mark": {"type": "line", "clip": true, "color": "#0070C0", "strokeWidth": 1.5}, "encoding": {"y": {"field": "P", "type": "quantitative", "scale": {"domain": [0, 100]}, "axis": null}}},
    {"mark": {"type": "line", "color": "#E8202A", "strokeWidth": 1.5}, "encoding": {"y": {"field": "T", "type": "quantitative", "scale": {"domain": [0, 50]}, "axis": null}}},
    {"transform": [{"filter": "datum.m == 1"}], "mark": {"type": "rule", "color": "#888888", "strokeWidth": 2}, "encoding": {"x": {"datum": 0.345, "type": "quantitative", "scale": {"domain": [0.5, 12.5]}, "axis": null}, "x2": {"datum": 12.655}, "y": {"datum": 0, "type": "quantitative", "scale": {"domain": [0, 100]}, "axis": null}}},
    {"transform": [{"filter": "datum.m == 1"}], "mark": {"type": "rule", "color": "#333333", "strokeWidth": 1}, "encoding": {"x": {"datum": 0.345, "type": "quantitative", "scale": {"domain": [0.5, 12.5]}, "axis": null}, "x2": {"datum": 12.655}, "y": {"datum": 100, "type": "quantitative", "scale": {"domain": [0, 100]}, "axis": null}}},
    {"transform": [{"filter": "datum.m == 1"}], "mark": {"type": "text", "align": "right", "baseline": "middle", "fontSize": 13, "color": "#222222"}, "encoding": {"x": {"datum": -0.09, "type": "quantitative", "scale": {"domain": [0.5, 12.5]}, "axis": null}, "y": {"datum": 35, "type": "quantitative", "scale": {"domain": [0, 50]}, "axis": null}, "text": {"value": "36.5"}}},
    {"transform": [{"filter": "datum.m == 1"}], "mark": {"type": "text", "align": "right", "baseline": "middle", "fontSize": 13, "color": "#222222"}, "encoding": {"x": {"datum": -0.09, "type": "quantitative", "scale": {"domain": [0.5, 12.5]}, "axis": null}, "y": {"datum": 15, "type": "quantitative", "scale": {"domain": [0, 50]}, "axis": null}, "text": {"value": "1.0"}}}
   ]},
  {"width": 465, "height": 10,
   "layer": [
    {"data": {"name": "months"}, "mark": {"type": "rule", "color": "#222222", "strokeWidth": 1, "xOffset": -19.375}, "encoding": {"x": {"field": "m", "type": "quantitative", "scale": {"domain": [0.5, 12.5]}, "axis": {"orient": "bottom", "values": [1,2,3,4,5,6,7,8,9,10,11,12], "labelExpr": "['J','F','M','A','M','J','J','A','S','O','N','D'][datum.value-1]", "ticks": false, "tickSize": 0, "domain": false, "labelFlush": false, "labelOverlap": false, "labelFontSize": 13, "labelColor": "#222222", "labelPadding": 5, "title": null, "zindex": 0}}, "y": {"datum": 0, "type": "quantitative", "scale": {"domain": [0, 1]}, "axis": null}, "y2": {"datum": 1}}},
    {"data": {"name": "frostB"}, "mark": {"type": "rect", "fill": "#33BFB6", "stroke": "#222222", "strokeWidth": 1, "xOffset": -19.375, "x2Offset": 19.375}, "encoding": {"x": {"field": "m", "type": "quantitative", "scale": {"domain": [0.5, 12.5]}}, "x2": {"field": "m"}, "y": {"datum": 0, "type": "quantitative", "scale": {"domain": [0, 1]}, "axis": null}, "y2": {"datum": 1}}}
   ]}
  ]}
 ]},
{"spacing": 11, "resolve": {"scale": {"x": "independent", "y": "independent"}},
 "hconcat": [
 {"spacing": 0, "bounds": "flush", "resolve": {"scale": {"x": "independent", "y": "independent"}},
  "vconcat": [
  {"width": 465, "height": 130,
   "title": {"text": "Red soil Station (45 m)", "subtitle": "2004"},
   "data": {"name": "c"},
   "encoding": {"x": {"field": "m", "type": "quantitative", "scale": {"domain": [0.5, 12.5]}, "axis": null}},
   "resolve": {"scale": {"y": "independent"}},
   "layer": [
    {"mark": {"type": "area", "clip": true, "color": "#0070C0"}, "encoding": {"y": {"field": "P", "type": "quantitative", "scale": {"domain": [100, 500]}, "axis": {"orient": "right", "values": [300, 500], "labelColor": "#1E7DC4", "title": null}}, "y2": {"datum": 100}}},
    {"transform": [{"filter": "datum.m == 1"}], "mark": {"type": "text", "align": "right", "baseline": "alphabetic", "fontSize": 16, "color": "#222222"}, "encoding": {"x": {"datum": 9.02, "type": "quantitative", "scale": {"domain": [0.5, 12.5]}, "axis": null}, "y": {"datum": 502, "type": "quantitative", "scale": {"domain": [100, 500]}, "axis": {"orient": "left", "values": [300, 500], "labels": false, "title": null}}, "text": {"value": "18.5C"}}},
    {"transform": [{"filter": "datum.m == 1"}], "mark": {"type": "text", "align": "right", "baseline": "alphabetic", "fontSize": 16, "color": "#222222"}, "encoding": {"x": {"datum": 12.42, "type": "quantitative", "scale": {"domain": [0.5, 12.5]}, "axis": null}, "y": {"datum": 502, "type": "quantitative", "scale": {"domain": [100, 500]}, "axis": null}, "text": {"value": "1155 mm"}}},
    {"transform": [{"filter": "datum.m == 1"}], "mark": {"type": "text", "align": "center", "baseline": "middle", "fontSize": 24, "color": "#222222"}, "encoding": {"x": {"datum": 11.62, "type": "quantitative", "scale": {"domain": [0.5, 12.5]}, "axis": null}, "y": {"datum": 369, "type": "quantitative", "scale": {"domain": [100, 500]}, "axis": null}, "text": {"value": "c)"}}},
    {"transform": [{"filter": "datum.m == 1"}], "mark": {"type": "text", "align": "center", "baseline": "middle", "fontSize": 13, "color": "#E8202A"}, "encoding": {"x": {"datum": -0.43, "type": "quantitative", "scale": {"domain": [0.5, 12.5]}, "axis": null}, "y": {"datum": 198, "type": "quantitative", "scale": {"domain": [100, 500]}, "axis": null}, "text": {"value": "C"}}},
    {"transform": [{"filter": "datum.m == 1"}], "mark": {"type": "text", "align": "center", "baseline": "middle", "fontSize": 13, "color": "#1E7DC4"}, "encoding": {"x": {"datum": 13.32, "type": "quantitative", "scale": {"domain": [0.5, 12.5]}, "axis": null}, "y": {"datum": 198, "type": "quantitative", "scale": {"domain": [100, 500]}, "axis": null}, "text": {"value": "mm"}}}
   ]},
  {"width": 465, "height": 325,
   "data": {"name": "c"},
   "encoding": {"x": {"field": "m", "type": "quantitative", "scale": {"domain": [0.5, 12.5]}, "axis": null}},
   "resolve": {"scale": {"y": "independent"}},
   "layer": [
    {"mark": {"type": "area", "clip": true, "fill": {"gradient": "linear", "x1": 0, "y1": 0, "x2": 1, "y2": 0, "stops": [
{"offset":0.00725,"color":"#0000"},{"offset":0.00725,"color":"#0070C0"},{"offset":0.00941,"color":"#0070C0"},{"offset":0.00941,"color":"#0000"},
{"offset":0.02392,"color":"#0000"},{"offset":0.02392,"color":"#0070C0"},{"offset":0.02608,"color":"#0070C0"},{"offset":0.02608,"color":"#0000"},
{"offset":0.04059,"color":"#0000"},{"offset":0.04059,"color":"#0070C0"},{"offset":0.04275,"color":"#0070C0"},{"offset":0.04275,"color":"#0000"},
{"offset":0.05725,"color":"#0000"},{"offset":0.05725,"color":"#0070C0"},{"offset":0.05941,"color":"#0070C0"},{"offset":0.05941,"color":"#0000"},
{"offset":0.07392,"color":"#0000"},{"offset":0.07392,"color":"#0070C0"},{"offset":0.07608,"color":"#0070C0"},{"offset":0.07608,"color":"#0000"},
{"offset":0.09059,"color":"#0000"},{"offset":0.09059,"color":"#0070C0"},{"offset":0.09275,"color":"#0070C0"},{"offset":0.09275,"color":"#0000"},
{"offset":0.10725,"color":"#0000"},{"offset":0.10725,"color":"#0070C0"},{"offset":0.10941,"color":"#0070C0"},{"offset":0.10941,"color":"#0000"},
{"offset":0.12392,"color":"#0000"},{"offset":0.12392,"color":"#0070C0"},{"offset":0.12608,"color":"#0070C0"},{"offset":0.12608,"color":"#0000"},
{"offset":0.14059,"color":"#0000"},{"offset":0.14059,"color":"#0070C0"},{"offset":0.14275,"color":"#0070C0"},{"offset":0.14275,"color":"#0000"},
{"offset":0.15725,"color":"#0000"},{"offset":0.15725,"color":"#0070C0"},{"offset":0.15941,"color":"#0070C0"},{"offset":0.15941,"color":"#0000"},
{"offset":0.17392,"color":"#0000"},{"offset":0.17392,"color":"#0070C0"},{"offset":0.17608,"color":"#0070C0"},{"offset":0.17608,"color":"#0000"},
{"offset":0.19059,"color":"#0000"},{"offset":0.19059,"color":"#0070C0"},{"offset":0.19275,"color":"#0070C0"},{"offset":0.19275,"color":"#0000"},
{"offset":0.20725,"color":"#0000"},{"offset":0.20725,"color":"#0070C0"},{"offset":0.20941,"color":"#0070C0"},{"offset":0.20941,"color":"#0000"},
{"offset":0.22392,"color":"#0000"},{"offset":0.22392,"color":"#0070C0"},{"offset":0.22608,"color":"#0070C0"},{"offset":0.22608,"color":"#0000"},
{"offset":0.24059,"color":"#0000"},{"offset":0.24059,"color":"#0070C0"},{"offset":0.24275,"color":"#0070C0"},{"offset":0.24275,"color":"#0000"},
{"offset":0.25725,"color":"#0000"},{"offset":0.25725,"color":"#0070C0"},{"offset":0.25941,"color":"#0070C0"},{"offset":0.25941,"color":"#0000"},
{"offset":0.27392,"color":"#0000"},{"offset":0.27392,"color":"#0070C0"},{"offset":0.27608,"color":"#0070C0"},{"offset":0.27608,"color":"#0000"},
{"offset":0.29059,"color":"#0000"},{"offset":0.29059,"color":"#0070C0"},{"offset":0.29275,"color":"#0070C0"},{"offset":0.29275,"color":"#0000"},
{"offset":0.30725,"color":"#0000"},{"offset":0.30725,"color":"#0070C0"},{"offset":0.30941,"color":"#0070C0"},{"offset":0.30941,"color":"#0000"},
{"offset":0.32392,"color":"#0000"},{"offset":0.32392,"color":"#0070C0"},{"offset":0.32608,"color":"#0070C0"},{"offset":0.32608,"color":"#0000"},
{"offset":0.34059,"color":"#0000"},{"offset":0.34059,"color":"#0070C0"},{"offset":0.34275,"color":"#0070C0"},{"offset":0.34275,"color":"#0000"},
{"offset":0.35725,"color":"#0000"},{"offset":0.35725,"color":"#0070C0"},{"offset":0.35941,"color":"#0070C0"},{"offset":0.35941,"color":"#0000"},
{"offset":0.37392,"color":"#0000"},{"offset":0.37392,"color":"#0070C0"},{"offset":0.37608,"color":"#0070C0"},{"offset":0.37608,"color":"#0000"},
{"offset":0.39059,"color":"#0000"},{"offset":0.39059,"color":"#0070C0"},{"offset":0.39275,"color":"#0070C0"},{"offset":0.39275,"color":"#0000"},
{"offset":0.40725,"color":"#0000"},{"offset":0.40725,"color":"#0070C0"},{"offset":0.40941,"color":"#0070C0"},{"offset":0.40941,"color":"#0000"},
{"offset":0.42392,"color":"#0000"},{"offset":0.42392,"color":"#0070C0"},{"offset":0.42608,"color":"#0070C0"},{"offset":0.42608,"color":"#0000"},
{"offset":0.44059,"color":"#0000"},{"offset":0.44059,"color":"#0070C0"},{"offset":0.44275,"color":"#0070C0"},{"offset":0.44275,"color":"#0000"},
{"offset":0.45725,"color":"#0000"},{"offset":0.45725,"color":"#0070C0"},{"offset":0.45941,"color":"#0070C0"},{"offset":0.45941,"color":"#0000"},
{"offset":0.47392,"color":"#0000"},{"offset":0.47392,"color":"#0070C0"},{"offset":0.47608,"color":"#0070C0"},{"offset":0.47608,"color":"#0000"},
{"offset":0.49059,"color":"#0000"},{"offset":0.49059,"color":"#0070C0"},{"offset":0.49275,"color":"#0070C0"},{"offset":0.49275,"color":"#0000"},
{"offset":0.50725,"color":"#0000"},{"offset":0.50725,"color":"#0070C0"},{"offset":0.50941,"color":"#0070C0"},{"offset":0.50941,"color":"#0000"},
{"offset":0.52392,"color":"#0000"},{"offset":0.52392,"color":"#0070C0"},{"offset":0.52608,"color":"#0070C0"},{"offset":0.52608,"color":"#0000"},
{"offset":0.54059,"color":"#0000"},{"offset":0.54059,"color":"#0070C0"},{"offset":0.54275,"color":"#0070C0"},{"offset":0.54275,"color":"#0000"},
{"offset":0.55725,"color":"#0000"},{"offset":0.55725,"color":"#0070C0"},{"offset":0.55941,"color":"#0070C0"},{"offset":0.55941,"color":"#0000"},
{"offset":0.57392,"color":"#0000"},{"offset":0.57392,"color":"#0070C0"},{"offset":0.57608,"color":"#0070C0"},{"offset":0.57608,"color":"#0000"},
{"offset":0.59059,"color":"#0000"},{"offset":0.59059,"color":"#0070C0"},{"offset":0.59275,"color":"#0070C0"},{"offset":0.59275,"color":"#0000"},
{"offset":0.60725,"color":"#0000"},{"offset":0.60725,"color":"#0070C0"},{"offset":0.60941,"color":"#0070C0"},{"offset":0.60941,"color":"#0000"},
{"offset":0.62392,"color":"#0000"},{"offset":0.62392,"color":"#0070C0"},{"offset":0.62608,"color":"#0070C0"},{"offset":0.62608,"color":"#0000"},
{"offset":0.64059,"color":"#0000"},{"offset":0.64059,"color":"#0070C0"},{"offset":0.64275,"color":"#0070C0"},{"offset":0.64275,"color":"#0000"},
{"offset":0.65725,"color":"#0000"},{"offset":0.65725,"color":"#0070C0"},{"offset":0.65941,"color":"#0070C0"},{"offset":0.65941,"color":"#0000"},
{"offset":0.67392,"color":"#0000"},{"offset":0.67392,"color":"#0070C0"},{"offset":0.67608,"color":"#0070C0"},{"offset":0.67608,"color":"#0000"},
{"offset":0.69059,"color":"#0000"},{"offset":0.69059,"color":"#0070C0"},{"offset":0.69275,"color":"#0070C0"},{"offset":0.69275,"color":"#0000"},
{"offset":0.70725,"color":"#0000"},{"offset":0.70725,"color":"#0070C0"},{"offset":0.70941,"color":"#0070C0"},{"offset":0.70941,"color":"#0000"},
{"offset":0.72392,"color":"#0000"},{"offset":0.72392,"color":"#0070C0"},{"offset":0.72608,"color":"#0070C0"},{"offset":0.72608,"color":"#0000"},
{"offset":0.74059,"color":"#0000"},{"offset":0.74059,"color":"#0070C0"},{"offset":0.74275,"color":"#0070C0"},{"offset":0.74275,"color":"#0000"},
{"offset":0.75725,"color":"#0000"},{"offset":0.75725,"color":"#0070C0"},{"offset":0.75941,"color":"#0070C0"},{"offset":0.75941,"color":"#0000"},
{"offset":0.77392,"color":"#0000"},{"offset":0.77392,"color":"#0070C0"},{"offset":0.77608,"color":"#0070C0"},{"offset":0.77608,"color":"#0000"},
{"offset":0.79059,"color":"#0000"},{"offset":0.79059,"color":"#0070C0"},{"offset":0.79275,"color":"#0070C0"},{"offset":0.79275,"color":"#0000"},
{"offset":0.80725,"color":"#0000"},{"offset":0.80725,"color":"#0070C0"},{"offset":0.80941,"color":"#0070C0"},{"offset":0.80941,"color":"#0000"},
{"offset":0.82392,"color":"#0000"},{"offset":0.82392,"color":"#0070C0"},{"offset":0.82608,"color":"#0070C0"},{"offset":0.82608,"color":"#0000"},
{"offset":0.84059,"color":"#0000"},{"offset":0.84059,"color":"#0070C0"},{"offset":0.84275,"color":"#0070C0"},{"offset":0.84275,"color":"#0000"},
{"offset":0.85725,"color":"#0000"},{"offset":0.85725,"color":"#0070C0"},{"offset":0.85941,"color":"#0070C0"},{"offset":0.85941,"color":"#0000"},
{"offset":0.87392,"color":"#0000"},{"offset":0.87392,"color":"#0070C0"},{"offset":0.87608,"color":"#0070C0"},{"offset":0.87608,"color":"#0000"},
{"offset":0.89059,"color":"#0000"},{"offset":0.89059,"color":"#0070C0"},{"offset":0.89275,"color":"#0070C0"},{"offset":0.89275,"color":"#0000"},
{"offset":0.90725,"color":"#0000"},{"offset":0.90725,"color":"#0070C0"},{"offset":0.90941,"color":"#0070C0"},{"offset":0.90941,"color":"#0000"},
{"offset":0.92392,"color":"#0000"},{"offset":0.92392,"color":"#0070C0"},{"offset":0.92608,"color":"#0070C0"},{"offset":0.92608,"color":"#0000"},
{"offset":0.94059,"color":"#0000"},{"offset":0.94059,"color":"#0070C0"},{"offset":0.94275,"color":"#0070C0"},{"offset":0.94275,"color":"#0000"},
{"offset":0.95725,"color":"#0000"},{"offset":0.95725,"color":"#0070C0"},{"offset":0.95941,"color":"#0070C0"},{"offset":0.95941,"color":"#0000"},
{"offset":0.97392,"color":"#0000"},{"offset":0.97392,"color":"#0070C0"},{"offset":0.97608,"color":"#0070C0"},{"offset":0.97608,"color":"#0000"},
{"offset":0.99059,"color":"#0000"},{"offset":0.99059,"color":"#0070C0"},{"offset":0.99275,"color":"#0070C0"},{"offset":0.99275,"color":"#0000"}
    ]}}, "encoding": {"y": {"field": "P", "type": "quantitative", "scale": {"domain": [0, 100]}, "axis": {"orient": "right", "values": [0, 20, 40, 60, 80, 100], "labelColor": "#1E7DC4", "title": null}}, "y2": {"datum": 0}}},
    {"mark": {"type": "area", "fill": "#ffffff"}, "encoding": {"y": {"field": "T", "type": "quantitative", "scale": {"domain": [0, 50]}, "axis": {"orient": "left", "values": [0, 10, 20, 30, 40, 50], "labelColor": "#E8202A", "title": null}}, "y2": {"datum": 0}}},
    {"mark": {"type": "area", "fill": {"gradient": "linear", "x1": 0, "y1": 0, "x2": 1, "y2": 0, "stops": [
{"offset":0.57285,"color":"#0000"},{"offset":0.57285,"color":"#E8212B"},{"offset":0.57715,"color":"#E8212B"},{"offset":0.57715,"color":"#0000"},
{"offset":0.58952,"color":"#0000"},{"offset":0.58952,"color":"#E8212B"},{"offset":0.59382,"color":"#E8212B"},{"offset":0.59382,"color":"#0000"},
{"offset":0.60618,"color":"#0000"},{"offset":0.60618,"color":"#E8212B"},{"offset":0.61048,"color":"#E8212B"},{"offset":0.61048,"color":"#0000"},
{"offset":0.62285,"color":"#0000"},{"offset":0.62285,"color":"#E8212B"},{"offset":0.62715,"color":"#E8212B"},{"offset":0.62715,"color":"#0000"},
{"offset":0.63952,"color":"#0000"},{"offset":0.63952,"color":"#E8212B"},{"offset":0.64382,"color":"#E8212B"},{"offset":0.64382,"color":"#0000"},
{"offset":0.65618,"color":"#0000"},{"offset":0.65618,"color":"#E8212B"},{"offset":0.66048,"color":"#E8212B"},{"offset":0.66048,"color":"#0000"},
{"offset":0.75618,"color":"#0000"},{"offset":0.75618,"color":"#E8212B"},{"offset":0.76048,"color":"#E8212B"},{"offset":0.76048,"color":"#0000"},
{"offset":0.77285,"color":"#0000"},{"offset":0.77285,"color":"#E8212B"},{"offset":0.77715,"color":"#E8212B"},{"offset":0.77715,"color":"#0000"},
{"offset":0.78952,"color":"#0000"},{"offset":0.78952,"color":"#E8212B"},{"offset":0.79382,"color":"#E8212B"},{"offset":0.79382,"color":"#0000"},
{"offset":0.80618,"color":"#0000"},{"offset":0.80618,"color":"#E8212B"},{"offset":0.81048,"color":"#E8212B"},{"offset":0.81048,"color":"#0000"}
    ]}}, "encoding": {"y": {"field": "T", "type": "quantitative", "scale": {"domain": [0, 50]}, "axis": null}, "y2": {"datum": 0}}},
    {"mark": {"type": "area", "fill": {"gradient": "linear", "x1": 0, "y1": 0, "x2": 0, "y2": 1, "stops": [
{"offset":0,"color":"#fff"},{"offset":0.0247,"color":"#fff"},{"offset":0.0247,"color":"#0000"},{"offset":0.03704,"color":"#0000"},
{"offset":0.03704,"color":"#fff"},{"offset":0.06174,"color":"#fff"},{"offset":0.06174,"color":"#0000"},{"offset":0.07407,"color":"#0000"},
{"offset":0.07407,"color":"#fff"},{"offset":0.09877,"color":"#fff"},{"offset":0.09877,"color":"#0000"},{"offset":0.11111,"color":"#0000"},
{"offset":0.11111,"color":"#fff"},{"offset":0.13581,"color":"#fff"},{"offset":0.13581,"color":"#0000"},{"offset":0.14815,"color":"#0000"},
{"offset":0.14815,"color":"#fff"},{"offset":0.17285,"color":"#fff"},{"offset":0.17285,"color":"#0000"},{"offset":0.18519,"color":"#0000"},
{"offset":0.18519,"color":"#fff"},{"offset":0.20989,"color":"#fff"},{"offset":0.20989,"color":"#0000"},{"offset":0.22222,"color":"#0000"},
{"offset":0.22222,"color":"#fff"},{"offset":0.24692,"color":"#fff"},{"offset":0.24692,"color":"#0000"},{"offset":0.25926,"color":"#0000"},
{"offset":0.25926,"color":"#fff"},{"offset":0.28396,"color":"#fff"},{"offset":0.28396,"color":"#0000"},{"offset":0.2963,"color":"#0000"},
{"offset":0.2963,"color":"#fff"},{"offset":0.321,"color":"#fff"},{"offset":0.321,"color":"#0000"},{"offset":0.33333,"color":"#0000"},
{"offset":0.33333,"color":"#fff"},{"offset":0.35803,"color":"#fff"},{"offset":0.35803,"color":"#0000"},{"offset":0.37037,"color":"#0000"},
{"offset":0.37037,"color":"#fff"},{"offset":0.39507,"color":"#fff"},{"offset":0.39507,"color":"#0000"},{"offset":0.40741,"color":"#0000"},
{"offset":0.40741,"color":"#fff"},{"offset":0.43211,"color":"#fff"},{"offset":0.43211,"color":"#0000"},{"offset":0.44444,"color":"#0000"},
{"offset":0.44444,"color":"#fff"},{"offset":0.46914,"color":"#fff"},{"offset":0.46914,"color":"#0000"},{"offset":0.48148,"color":"#0000"},
{"offset":0.48148,"color":"#fff"},{"offset":0.50618,"color":"#fff"},{"offset":0.50618,"color":"#0000"},{"offset":0.51852,"color":"#0000"},
{"offset":0.51852,"color":"#fff"},{"offset":0.54322,"color":"#fff"},{"offset":0.54322,"color":"#0000"},{"offset":0.55556,"color":"#0000"},
{"offset":0.55556,"color":"#fff"},{"offset":0.58026,"color":"#fff"},{"offset":0.58026,"color":"#0000"},{"offset":0.59259,"color":"#0000"},
{"offset":0.59259,"color":"#fff"},{"offset":0.61729,"color":"#fff"},{"offset":0.61729,"color":"#0000"},{"offset":0.62963,"color":"#0000"},
{"offset":0.62963,"color":"#fff"},{"offset":0.65433,"color":"#fff"},{"offset":0.65433,"color":"#0000"},{"offset":0.66667,"color":"#0000"},
{"offset":0.66667,"color":"#fff"},{"offset":0.69137,"color":"#fff"},{"offset":0.69137,"color":"#0000"},{"offset":0.7037,"color":"#0000"},
{"offset":0.7037,"color":"#fff"},{"offset":0.7284,"color":"#fff"},{"offset":0.7284,"color":"#0000"},{"offset":0.74074,"color":"#0000"},
{"offset":0.74074,"color":"#fff"},{"offset":0.76544,"color":"#fff"},{"offset":0.76544,"color":"#0000"},{"offset":0.77778,"color":"#0000"},
{"offset":0.77778,"color":"#fff"},{"offset":0.80248,"color":"#fff"},{"offset":0.80248,"color":"#0000"},{"offset":0.81481,"color":"#0000"},
{"offset":0.81481,"color":"#fff"},{"offset":0.83951,"color":"#fff"},{"offset":0.83951,"color":"#0000"},{"offset":0.85185,"color":"#0000"},
{"offset":0.85185,"color":"#fff"},{"offset":0.87655,"color":"#fff"},{"offset":0.87655,"color":"#0000"},{"offset":0.88889,"color":"#0000"},
{"offset":0.88889,"color":"#fff"},{"offset":0.91359,"color":"#fff"},{"offset":0.91359,"color":"#0000"},{"offset":0.92593,"color":"#0000"},
{"offset":0.92593,"color":"#fff"},{"offset":0.95063,"color":"#fff"},{"offset":0.95063,"color":"#0000"},{"offset":0.96296,"color":"#0000"},
{"offset":0.96296,"color":"#fff"},{"offset":0.98766,"color":"#fff"},{"offset":0.98766,"color":"#0000"},{"offset":1,"color":"#0000"}
    ]}}, "encoding": {"y": {"field": "T", "type": "quantitative", "scale": {"domain": [0, 50]}, "axis": null}, "y2": {"datum": 0}}},
    {"mark": {"type": "area", "clip": true, "fill": {"gradient": "linear", "x1": 0, "y1": 0, "x2": 1, "y2": 0, "stops": [
{"offset":0.55875,"color":"#0000"},{"offset":0.55875,"color":"#ffffff"},{"offset":0.66875,"color":"#ffffff"},{"offset":0.66875,"color":"#0000"},
{"offset":0.746,"color":"#0000"},{"offset":0.746,"color":"#ffffff"},{"offset":0.82442,"color":"#ffffff"},{"offset":0.82442,"color":"#0000"}
    ]}}, "encoding": {"y": {"field": "P", "type": "quantitative", "scale": {"domain": [0, 100]}, "axis": null}, "y2": {"datum": 0}}},
    {"mark": {"type": "line", "clip": true, "color": "#0070C0", "strokeWidth": 1.5}, "encoding": {"y": {"field": "P", "type": "quantitative", "scale": {"domain": [0, 100]}, "axis": null}}},
    {"mark": {"type": "line", "color": "#E8202A", "strokeWidth": 1.5}, "encoding": {"y": {"field": "T", "type": "quantitative", "scale": {"domain": [0, 50]}, "axis": null}}},
    {"transform": [{"filter": "datum.m == 1"}], "mark": {"type": "rule", "color": "#888888", "strokeWidth": 2}, "encoding": {"x": {"datum": 0.345, "type": "quantitative", "scale": {"domain": [0.5, 12.5]}, "axis": null}, "x2": {"datum": 12.655}, "y": {"datum": 0, "type": "quantitative", "scale": {"domain": [0, 100]}, "axis": null}}},
    {"transform": [{"filter": "datum.m == 1"}], "mark": {"type": "rule", "color": "#333333", "strokeWidth": 1}, "encoding": {"x": {"datum": 0.345, "type": "quantitative", "scale": {"domain": [0.5, 12.5]}, "axis": null}, "x2": {"datum": 12.655}, "y": {"datum": 100, "type": "quantitative", "scale": {"domain": [0, 100]}, "axis": null}}},
    {"transform": [{"filter": "datum.m == 1"}], "mark": {"type": "text", "align": "right", "baseline": "middle", "fontSize": 13, "color": "#222222"}, "encoding": {"x": {"datum": -0.09, "type": "quantitative", "scale": {"domain": [0.5, 12.5]}, "axis": null}, "y": {"datum": 35, "type": "quantitative", "scale": {"domain": [0, 50]}, "axis": null}, "text": {"value": "34.7"}}},
    {"transform": [{"filter": "datum.m == 1"}], "mark": {"type": "text", "align": "right", "baseline": "middle", "fontSize": 13, "color": "#222222"}, "encoding": {"x": {"datum": -0.09, "type": "quantitative", "scale": {"domain": [0.5, 12.5]}, "axis": null}, "y": {"datum": 15, "type": "quantitative", "scale": {"domain": [0, 50]}, "axis": null}, "text": {"value": "2.8"}}}
   ]},
  {"width": 465, "height": 10,
   "layer": [
    {"data": {"name": "months"}, "mark": {"type": "rule", "color": "#222222", "strokeWidth": 1, "xOffset": -19.375}, "encoding": {"x": {"field": "m", "type": "quantitative", "scale": {"domain": [0.5, 12.5]}, "axis": {"orient": "bottom", "values": [1,2,3,4,5,6,7,8,9,10,11,12], "labelExpr": "['J','F','M','A','M','J','J','A','S','O','N','D'][datum.value-1]", "ticks": false, "tickSize": 0, "domain": false, "labelFlush": false, "labelOverlap": false, "labelFontSize": 13, "labelColor": "#222222", "labelPadding": 5, "title": null, "zindex": 0}}, "y": {"datum": 0, "type": "quantitative", "scale": {"domain": [0, 1]}, "axis": null}, "y2": {"datum": 1}}},
    {"data": {"name": "frostC"}, "mark": {"type": "rect", "fill": "#33BFB6", "stroke": "#222222", "strokeWidth": 1, "xOffset": -19.375, "x2Offset": 19.375}, "encoding": {"x": {"field": "m", "type": "quantitative", "scale": {"domain": [0.5, 12.5]}}, "x2": {"field": "m"}, "y": {"datum": 0, "type": "quantitative", "scale": {"domain": [0, 1]}, "axis": null}, "y2": {"datum": 1}}}
   ]}
  ]},
 {"spacing": 0, "bounds": "flush", "resolve": {"scale": {"x": "independent", "y": "independent"}},
  "vconcat": [
  {"width": 465, "height": 130,
   "title": {"text": "Red soil Station (45 m)", "subtitle": "2005"},
   "data": {"name": "d"},
   "encoding": {"x": {"field": "m", "type": "quantitative", "scale": {"domain": [0.5, 12.5]}, "axis": null}},
   "resolve": {"scale": {"y": "independent"}},
   "layer": [
    {"mark": {"type": "area", "clip": true, "color": "#0070C0"}, "encoding": {"y": {"field": "P", "type": "quantitative", "scale": {"domain": [100, 500]}, "axis": {"orient": "right", "values": [300, 500], "labelColor": "#1E7DC4", "title": null}}, "y2": {"datum": 100}}},
    {"transform": [{"filter": "datum.m == 1"}], "mark": {"type": "text", "align": "right", "baseline": "alphabetic", "fontSize": 16, "color": "#222222"}, "encoding": {"x": {"datum": 9.02, "type": "quantitative", "scale": {"domain": [0.5, 12.5]}, "axis": null}, "y": {"datum": 502, "type": "quantitative", "scale": {"domain": [100, 500]}, "axis": {"orient": "left", "values": [300, 500], "labels": false, "title": null}}, "text": {"value": "18.7C"}}},
    {"transform": [{"filter": "datum.m == 1"}], "mark": {"type": "text", "align": "right", "baseline": "alphabetic", "fontSize": 16, "color": "#222222"}, "encoding": {"x": {"datum": 12.42, "type": "quantitative", "scale": {"domain": [0.5, 12.5]}, "axis": null}, "y": {"datum": 502, "type": "quantitative", "scale": {"domain": [100, 500]}, "axis": null}, "text": {"value": "1660 mm"}}},
    {"transform": [{"filter": "datum.m == 1"}], "mark": {"type": "text", "align": "center", "baseline": "middle", "fontSize": 24, "color": "#222222"}, "encoding": {"x": {"datum": 11.43, "type": "quantitative", "scale": {"domain": [0.5, 12.5]}, "axis": null}, "y": {"datum": 369, "type": "quantitative", "scale": {"domain": [100, 500]}, "axis": null}, "text": {"value": "d)"}}},
    {"transform": [{"filter": "datum.m == 1"}], "mark": {"type": "text", "align": "center", "baseline": "middle", "fontSize": 13, "color": "#E8202A"}, "encoding": {"x": {"datum": -0.43, "type": "quantitative", "scale": {"domain": [0.5, 12.5]}, "axis": null}, "y": {"datum": 198, "type": "quantitative", "scale": {"domain": [100, 500]}, "axis": null}, "text": {"value": "C"}}},
    {"transform": [{"filter": "datum.m == 1"}], "mark": {"type": "text", "align": "center", "baseline": "middle", "fontSize": 13, "color": "#1E7DC4"}, "encoding": {"x": {"datum": 13.32, "type": "quantitative", "scale": {"domain": [0.5, 12.5]}, "axis": null}, "y": {"datum": 198, "type": "quantitative", "scale": {"domain": [100, 500]}, "axis": null}, "text": {"value": "mm"}}}
   ]},
  {"width": 465, "height": 325,
   "data": {"name": "d"},
   "encoding": {"x": {"field": "m", "type": "quantitative", "scale": {"domain": [0.5, 12.5]}, "axis": null}},
   "resolve": {"scale": {"y": "independent"}},
   "layer": [
    {"mark": {"type": "area", "clip": true, "fill": {"gradient": "linear", "x1": 0, "y1": 0, "x2": 1, "y2": 0, "stops": [
{"offset":0.00725,"color":"#0000"},{"offset":0.00725,"color":"#0070C0"},{"offset":0.00941,"color":"#0070C0"},{"offset":0.00941,"color":"#0000"},
{"offset":0.02392,"color":"#0000"},{"offset":0.02392,"color":"#0070C0"},{"offset":0.02608,"color":"#0070C0"},{"offset":0.02608,"color":"#0000"},
{"offset":0.04059,"color":"#0000"},{"offset":0.04059,"color":"#0070C0"},{"offset":0.04275,"color":"#0070C0"},{"offset":0.04275,"color":"#0000"},
{"offset":0.05725,"color":"#0000"},{"offset":0.05725,"color":"#0070C0"},{"offset":0.05941,"color":"#0070C0"},{"offset":0.05941,"color":"#0000"},
{"offset":0.07392,"color":"#0000"},{"offset":0.07392,"color":"#0070C0"},{"offset":0.07608,"color":"#0070C0"},{"offset":0.07608,"color":"#0000"},
{"offset":0.09059,"color":"#0000"},{"offset":0.09059,"color":"#0070C0"},{"offset":0.09275,"color":"#0070C0"},{"offset":0.09275,"color":"#0000"},
{"offset":0.10725,"color":"#0000"},{"offset":0.10725,"color":"#0070C0"},{"offset":0.10941,"color":"#0070C0"},{"offset":0.10941,"color":"#0000"},
{"offset":0.12392,"color":"#0000"},{"offset":0.12392,"color":"#0070C0"},{"offset":0.12608,"color":"#0070C0"},{"offset":0.12608,"color":"#0000"},
{"offset":0.14059,"color":"#0000"},{"offset":0.14059,"color":"#0070C0"},{"offset":0.14275,"color":"#0070C0"},{"offset":0.14275,"color":"#0000"},
{"offset":0.15725,"color":"#0000"},{"offset":0.15725,"color":"#0070C0"},{"offset":0.15941,"color":"#0070C0"},{"offset":0.15941,"color":"#0000"},
{"offset":0.17392,"color":"#0000"},{"offset":0.17392,"color":"#0070C0"},{"offset":0.17608,"color":"#0070C0"},{"offset":0.17608,"color":"#0000"},
{"offset":0.19059,"color":"#0000"},{"offset":0.19059,"color":"#0070C0"},{"offset":0.19275,"color":"#0070C0"},{"offset":0.19275,"color":"#0000"},
{"offset":0.20725,"color":"#0000"},{"offset":0.20725,"color":"#0070C0"},{"offset":0.20941,"color":"#0070C0"},{"offset":0.20941,"color":"#0000"},
{"offset":0.22392,"color":"#0000"},{"offset":0.22392,"color":"#0070C0"},{"offset":0.22608,"color":"#0070C0"},{"offset":0.22608,"color":"#0000"},
{"offset":0.24059,"color":"#0000"},{"offset":0.24059,"color":"#0070C0"},{"offset":0.24275,"color":"#0070C0"},{"offset":0.24275,"color":"#0000"},
{"offset":0.25725,"color":"#0000"},{"offset":0.25725,"color":"#0070C0"},{"offset":0.25941,"color":"#0070C0"},{"offset":0.25941,"color":"#0000"},
{"offset":0.27392,"color":"#0000"},{"offset":0.27392,"color":"#0070C0"},{"offset":0.27608,"color":"#0070C0"},{"offset":0.27608,"color":"#0000"},
{"offset":0.29059,"color":"#0000"},{"offset":0.29059,"color":"#0070C0"},{"offset":0.29275,"color":"#0070C0"},{"offset":0.29275,"color":"#0000"},
{"offset":0.30725,"color":"#0000"},{"offset":0.30725,"color":"#0070C0"},{"offset":0.30941,"color":"#0070C0"},{"offset":0.30941,"color":"#0000"},
{"offset":0.32392,"color":"#0000"},{"offset":0.32392,"color":"#0070C0"},{"offset":0.32608,"color":"#0070C0"},{"offset":0.32608,"color":"#0000"},
{"offset":0.34059,"color":"#0000"},{"offset":0.34059,"color":"#0070C0"},{"offset":0.34275,"color":"#0070C0"},{"offset":0.34275,"color":"#0000"},
{"offset":0.35725,"color":"#0000"},{"offset":0.35725,"color":"#0070C0"},{"offset":0.35941,"color":"#0070C0"},{"offset":0.35941,"color":"#0000"},
{"offset":0.37392,"color":"#0000"},{"offset":0.37392,"color":"#0070C0"},{"offset":0.37608,"color":"#0070C0"},{"offset":0.37608,"color":"#0000"},
{"offset":0.39059,"color":"#0000"},{"offset":0.39059,"color":"#0070C0"},{"offset":0.39275,"color":"#0070C0"},{"offset":0.39275,"color":"#0000"},
{"offset":0.40725,"color":"#0000"},{"offset":0.40725,"color":"#0070C0"},{"offset":0.40941,"color":"#0070C0"},{"offset":0.40941,"color":"#0000"},
{"offset":0.42392,"color":"#0000"},{"offset":0.42392,"color":"#0070C0"},{"offset":0.42608,"color":"#0070C0"},{"offset":0.42608,"color":"#0000"},
{"offset":0.44059,"color":"#0000"},{"offset":0.44059,"color":"#0070C0"},{"offset":0.44275,"color":"#0070C0"},{"offset":0.44275,"color":"#0000"},
{"offset":0.45725,"color":"#0000"},{"offset":0.45725,"color":"#0070C0"},{"offset":0.45941,"color":"#0070C0"},{"offset":0.45941,"color":"#0000"},
{"offset":0.47392,"color":"#0000"},{"offset":0.47392,"color":"#0070C0"},{"offset":0.47608,"color":"#0070C0"},{"offset":0.47608,"color":"#0000"},
{"offset":0.49059,"color":"#0000"},{"offset":0.49059,"color":"#0070C0"},{"offset":0.49275,"color":"#0070C0"},{"offset":0.49275,"color":"#0000"},
{"offset":0.50725,"color":"#0000"},{"offset":0.50725,"color":"#0070C0"},{"offset":0.50941,"color":"#0070C0"},{"offset":0.50941,"color":"#0000"},
{"offset":0.52392,"color":"#0000"},{"offset":0.52392,"color":"#0070C0"},{"offset":0.52608,"color":"#0070C0"},{"offset":0.52608,"color":"#0000"},
{"offset":0.54059,"color":"#0000"},{"offset":0.54059,"color":"#0070C0"},{"offset":0.54275,"color":"#0070C0"},{"offset":0.54275,"color":"#0000"},
{"offset":0.55725,"color":"#0000"},{"offset":0.55725,"color":"#0070C0"},{"offset":0.55941,"color":"#0070C0"},{"offset":0.55941,"color":"#0000"},
{"offset":0.57392,"color":"#0000"},{"offset":0.57392,"color":"#0070C0"},{"offset":0.57608,"color":"#0070C0"},{"offset":0.57608,"color":"#0000"},
{"offset":0.59059,"color":"#0000"},{"offset":0.59059,"color":"#0070C0"},{"offset":0.59275,"color":"#0070C0"},{"offset":0.59275,"color":"#0000"},
{"offset":0.60725,"color":"#0000"},{"offset":0.60725,"color":"#0070C0"},{"offset":0.60941,"color":"#0070C0"},{"offset":0.60941,"color":"#0000"},
{"offset":0.62392,"color":"#0000"},{"offset":0.62392,"color":"#0070C0"},{"offset":0.62608,"color":"#0070C0"},{"offset":0.62608,"color":"#0000"},
{"offset":0.64059,"color":"#0000"},{"offset":0.64059,"color":"#0070C0"},{"offset":0.64275,"color":"#0070C0"},{"offset":0.64275,"color":"#0000"},
{"offset":0.65725,"color":"#0000"},{"offset":0.65725,"color":"#0070C0"},{"offset":0.65941,"color":"#0070C0"},{"offset":0.65941,"color":"#0000"},
{"offset":0.67392,"color":"#0000"},{"offset":0.67392,"color":"#0070C0"},{"offset":0.67608,"color":"#0070C0"},{"offset":0.67608,"color":"#0000"},
{"offset":0.69059,"color":"#0000"},{"offset":0.69059,"color":"#0070C0"},{"offset":0.69275,"color":"#0070C0"},{"offset":0.69275,"color":"#0000"},
{"offset":0.70725,"color":"#0000"},{"offset":0.70725,"color":"#0070C0"},{"offset":0.70941,"color":"#0070C0"},{"offset":0.70941,"color":"#0000"},
{"offset":0.72392,"color":"#0000"},{"offset":0.72392,"color":"#0070C0"},{"offset":0.72608,"color":"#0070C0"},{"offset":0.72608,"color":"#0000"},
{"offset":0.74059,"color":"#0000"},{"offset":0.74059,"color":"#0070C0"},{"offset":0.74275,"color":"#0070C0"},{"offset":0.74275,"color":"#0000"},
{"offset":0.75725,"color":"#0000"},{"offset":0.75725,"color":"#0070C0"},{"offset":0.75941,"color":"#0070C0"},{"offset":0.75941,"color":"#0000"},
{"offset":0.77392,"color":"#0000"},{"offset":0.77392,"color":"#0070C0"},{"offset":0.77608,"color":"#0070C0"},{"offset":0.77608,"color":"#0000"},
{"offset":0.79059,"color":"#0000"},{"offset":0.79059,"color":"#0070C0"},{"offset":0.79275,"color":"#0070C0"},{"offset":0.79275,"color":"#0000"},
{"offset":0.80725,"color":"#0000"},{"offset":0.80725,"color":"#0070C0"},{"offset":0.80941,"color":"#0070C0"},{"offset":0.80941,"color":"#0000"},
{"offset":0.82392,"color":"#0000"},{"offset":0.82392,"color":"#0070C0"},{"offset":0.82608,"color":"#0070C0"},{"offset":0.82608,"color":"#0000"},
{"offset":0.84059,"color":"#0000"},{"offset":0.84059,"color":"#0070C0"},{"offset":0.84275,"color":"#0070C0"},{"offset":0.84275,"color":"#0000"},
{"offset":0.85725,"color":"#0000"},{"offset":0.85725,"color":"#0070C0"},{"offset":0.85941,"color":"#0070C0"},{"offset":0.85941,"color":"#0000"},
{"offset":0.87392,"color":"#0000"},{"offset":0.87392,"color":"#0070C0"},{"offset":0.87608,"color":"#0070C0"},{"offset":0.87608,"color":"#0000"},
{"offset":0.89059,"color":"#0000"},{"offset":0.89059,"color":"#0070C0"},{"offset":0.89275,"color":"#0070C0"},{"offset":0.89275,"color":"#0000"},
{"offset":0.90725,"color":"#0000"},{"offset":0.90725,"color":"#0070C0"},{"offset":0.90941,"color":"#0070C0"},{"offset":0.90941,"color":"#0000"},
{"offset":0.92392,"color":"#0000"},{"offset":0.92392,"color":"#0070C0"},{"offset":0.92608,"color":"#0070C0"},{"offset":0.92608,"color":"#0000"},
{"offset":0.94059,"color":"#0000"},{"offset":0.94059,"color":"#0070C0"},{"offset":0.94275,"color":"#0070C0"},{"offset":0.94275,"color":"#0000"},
{"offset":0.95725,"color":"#0000"},{"offset":0.95725,"color":"#0070C0"},{"offset":0.95941,"color":"#0070C0"},{"offset":0.95941,"color":"#0000"},
{"offset":0.97392,"color":"#0000"},{"offset":0.97392,"color":"#0070C0"},{"offset":0.97608,"color":"#0070C0"},{"offset":0.97608,"color":"#0000"},
{"offset":0.99059,"color":"#0000"},{"offset":0.99059,"color":"#0070C0"},{"offset":0.99275,"color":"#0070C0"},{"offset":0.99275,"color":"#0000"}
    ]}}, "encoding": {"y": {"field": "P", "type": "quantitative", "scale": {"domain": [0, 100]}, "axis": {"orient": "right", "values": [0, 20, 40, 60, 80, 100], "labelColor": "#1E7DC4", "title": null}}, "y2": {"datum": 0}}},
    {"mark": {"type": "area", "fill": "#ffffff"}, "encoding": {"y": {"field": "T", "type": "quantitative", "scale": {"domain": [0, 50]}, "axis": {"orient": "left", "values": [0, 10, 20, 30, 40, 50], "labelColor": "#E8202A", "title": null}}, "y2": {"datum": 0}}},
    {"mark": {"type": "area", "fill": {"gradient": "linear", "x1": 0, "y1": 0, "x2": 1, "y2": 0, "stops": [
{"offset":0.57285,"color":"#0000"},{"offset":0.57285,"color":"#E8212B"},{"offset":0.57715,"color":"#E8212B"},{"offset":0.57715,"color":"#0000"},
{"offset":0.58952,"color":"#0000"},{"offset":0.58952,"color":"#E8212B"},{"offset":0.59382,"color":"#E8212B"},{"offset":0.59382,"color":"#0000"},
{"offset":0.60618,"color":"#0000"},{"offset":0.60618,"color":"#E8212B"},{"offset":0.61048,"color":"#E8212B"},{"offset":0.61048,"color":"#0000"},
{"offset":0.62285,"color":"#0000"},{"offset":0.62285,"color":"#E8212B"},{"offset":0.62715,"color":"#E8212B"},{"offset":0.62715,"color":"#0000"},
{"offset":0.63952,"color":"#0000"},{"offset":0.63952,"color":"#E8212B"},{"offset":0.64382,"color":"#E8212B"},{"offset":0.64382,"color":"#0000"},
{"offset":0.65618,"color":"#0000"},{"offset":0.65618,"color":"#E8212B"},{"offset":0.66048,"color":"#E8212B"},{"offset":0.66048,"color":"#0000"},
{"offset":0.67285,"color":"#0000"},{"offset":0.67285,"color":"#E8212B"},{"offset":0.67715,"color":"#E8212B"},{"offset":0.67715,"color":"#0000"},
{"offset":0.68952,"color":"#0000"},{"offset":0.68952,"color":"#E8212B"},{"offset":0.69382,"color":"#E8212B"},{"offset":0.69382,"color":"#0000"},
{"offset":0.70618,"color":"#0000"},{"offset":0.70618,"color":"#E8212B"},{"offset":0.71048,"color":"#E8212B"},{"offset":0.71048,"color":"#0000"},
{"offset":0.72285,"color":"#0000"},{"offset":0.72285,"color":"#E8212B"},{"offset":0.72715,"color":"#E8212B"},{"offset":0.72715,"color":"#0000"}
    ]}}, "encoding": {"y": {"field": "T", "type": "quantitative", "scale": {"domain": [0, 50]}, "axis": null}, "y2": {"datum": 0}}},
    {"mark": {"type": "area", "fill": {"gradient": "linear", "x1": 0, "y1": 0, "x2": 0, "y2": 1, "stops": [
{"offset":0,"color":"#fff"},{"offset":0.0247,"color":"#fff"},{"offset":0.0247,"color":"#0000"},{"offset":0.03704,"color":"#0000"},
{"offset":0.03704,"color":"#fff"},{"offset":0.06174,"color":"#fff"},{"offset":0.06174,"color":"#0000"},{"offset":0.07407,"color":"#0000"},
{"offset":0.07407,"color":"#fff"},{"offset":0.09877,"color":"#fff"},{"offset":0.09877,"color":"#0000"},{"offset":0.11111,"color":"#0000"},
{"offset":0.11111,"color":"#fff"},{"offset":0.13581,"color":"#fff"},{"offset":0.13581,"color":"#0000"},{"offset":0.14815,"color":"#0000"},
{"offset":0.14815,"color":"#fff"},{"offset":0.17285,"color":"#fff"},{"offset":0.17285,"color":"#0000"},{"offset":0.18519,"color":"#0000"},
{"offset":0.18519,"color":"#fff"},{"offset":0.20989,"color":"#fff"},{"offset":0.20989,"color":"#0000"},{"offset":0.22222,"color":"#0000"},
{"offset":0.22222,"color":"#fff"},{"offset":0.24692,"color":"#fff"},{"offset":0.24692,"color":"#0000"},{"offset":0.25926,"color":"#0000"},
{"offset":0.25926,"color":"#fff"},{"offset":0.28396,"color":"#fff"},{"offset":0.28396,"color":"#0000"},{"offset":0.2963,"color":"#0000"},
{"offset":0.2963,"color":"#fff"},{"offset":0.321,"color":"#fff"},{"offset":0.321,"color":"#0000"},{"offset":0.33333,"color":"#0000"},
{"offset":0.33333,"color":"#fff"},{"offset":0.35803,"color":"#fff"},{"offset":0.35803,"color":"#0000"},{"offset":0.37037,"color":"#0000"},
{"offset":0.37037,"color":"#fff"},{"offset":0.39507,"color":"#fff"},{"offset":0.39507,"color":"#0000"},{"offset":0.40741,"color":"#0000"},
{"offset":0.40741,"color":"#fff"},{"offset":0.43211,"color":"#fff"},{"offset":0.43211,"color":"#0000"},{"offset":0.44444,"color":"#0000"},
{"offset":0.44444,"color":"#fff"},{"offset":0.46914,"color":"#fff"},{"offset":0.46914,"color":"#0000"},{"offset":0.48148,"color":"#0000"},
{"offset":0.48148,"color":"#fff"},{"offset":0.50618,"color":"#fff"},{"offset":0.50618,"color":"#0000"},{"offset":0.51852,"color":"#0000"},
{"offset":0.51852,"color":"#fff"},{"offset":0.54322,"color":"#fff"},{"offset":0.54322,"color":"#0000"},{"offset":0.55556,"color":"#0000"},
{"offset":0.55556,"color":"#fff"},{"offset":0.58026,"color":"#fff"},{"offset":0.58026,"color":"#0000"},{"offset":0.59259,"color":"#0000"},
{"offset":0.59259,"color":"#fff"},{"offset":0.61729,"color":"#fff"},{"offset":0.61729,"color":"#0000"},{"offset":0.62963,"color":"#0000"},
{"offset":0.62963,"color":"#fff"},{"offset":0.65433,"color":"#fff"},{"offset":0.65433,"color":"#0000"},{"offset":0.66667,"color":"#0000"},
{"offset":0.66667,"color":"#fff"},{"offset":0.69137,"color":"#fff"},{"offset":0.69137,"color":"#0000"},{"offset":0.7037,"color":"#0000"},
{"offset":0.7037,"color":"#fff"},{"offset":0.7284,"color":"#fff"},{"offset":0.7284,"color":"#0000"},{"offset":0.74074,"color":"#0000"},
{"offset":0.74074,"color":"#fff"},{"offset":0.76544,"color":"#fff"},{"offset":0.76544,"color":"#0000"},{"offset":0.77778,"color":"#0000"},
{"offset":0.77778,"color":"#fff"},{"offset":0.80248,"color":"#fff"},{"offset":0.80248,"color":"#0000"},{"offset":0.81481,"color":"#0000"},
{"offset":0.81481,"color":"#fff"},{"offset":0.83951,"color":"#fff"},{"offset":0.83951,"color":"#0000"},{"offset":0.85185,"color":"#0000"},
{"offset":0.85185,"color":"#fff"},{"offset":0.87655,"color":"#fff"},{"offset":0.87655,"color":"#0000"},{"offset":0.88889,"color":"#0000"},
{"offset":0.88889,"color":"#fff"},{"offset":0.91359,"color":"#fff"},{"offset":0.91359,"color":"#0000"},{"offset":0.92593,"color":"#0000"},
{"offset":0.92593,"color":"#fff"},{"offset":0.95063,"color":"#fff"},{"offset":0.95063,"color":"#0000"},{"offset":0.96296,"color":"#0000"},
{"offset":0.96296,"color":"#fff"},{"offset":0.98766,"color":"#fff"},{"offset":0.98766,"color":"#0000"},{"offset":1,"color":"#0000"}
    ]}}, "encoding": {"y": {"field": "T", "type": "quantitative", "scale": {"domain": [0, 50]}, "axis": null}, "y2": {"datum": 0}}},
    {"mark": {"type": "area", "clip": true, "fill": {"gradient": "linear", "x1": 0, "y1": 0, "x2": 1, "y2": 0, "stops": [
{"offset":0.56425,"color":"#0000"},{"offset":0.56425,"color":"#ffffff"},{"offset":0.72983,"color":"#ffffff"},{"offset":0.72983,"color":"#0000"}
    ]}}, "encoding": {"y": {"field": "P", "type": "quantitative", "scale": {"domain": [0, 100]}, "axis": null}, "y2": {"datum": 0}}},
    {"mark": {"type": "line", "clip": true, "color": "#0070C0", "strokeWidth": 1.5}, "encoding": {"y": {"field": "P", "type": "quantitative", "scale": {"domain": [0, 100]}, "axis": null}}},
    {"mark": {"type": "line", "color": "#E8202A", "strokeWidth": 1.5}, "encoding": {"y": {"field": "T", "type": "quantitative", "scale": {"domain": [0, 50]}, "axis": null}}},
    {"transform": [{"filter": "datum.m == 1"}], "mark": {"type": "rule", "color": "#888888", "strokeWidth": 2}, "encoding": {"x": {"datum": 0.345, "type": "quantitative", "scale": {"domain": [0.5, 12.5]}, "axis": null}, "x2": {"datum": 12.655}, "y": {"datum": 0, "type": "quantitative", "scale": {"domain": [0, 100]}, "axis": null}}},
    {"transform": [{"filter": "datum.m == 1"}], "mark": {"type": "rule", "color": "#333333", "strokeWidth": 1}, "encoding": {"x": {"datum": 0.345, "type": "quantitative", "scale": {"domain": [0.5, 12.5]}, "axis": null}, "x2": {"datum": 12.655}, "y": {"datum": 100, "type": "quantitative", "scale": {"domain": [0, 100]}, "axis": null}}},
    {"transform": [{"filter": "datum.m == 1"}], "mark": {"type": "text", "align": "right", "baseline": "middle", "fontSize": 13, "color": "#222222"}, "encoding": {"x": {"datum": -0.09, "type": "quantitative", "scale": {"domain": [0.5, 12.5]}, "axis": null}, "y": {"datum": 35, "type": "quantitative", "scale": {"domain": [0, 50]}, "axis": null}, "text": {"value": "35.9"}}},
    {"transform": [{"filter": "datum.m == 1"}], "mark": {"type": "text", "align": "right", "baseline": "middle", "fontSize": 13, "color": "#222222"}, "encoding": {"x": {"datum": -0.09, "type": "quantitative", "scale": {"domain": [0.5, 12.5]}, "axis": null}, "y": {"datum": 15, "type": "quantitative", "scale": {"domain": [0, 50]}, "axis": null}, "text": {"value": "2.3"}}}
   ]},
  {"width": 465, "height": 10,
   "layer": [
    {"data": {"name": "months"}, "mark": {"type": "rule", "color": "#222222", "strokeWidth": 1, "xOffset": -19.375}, "encoding": {"x": {"field": "m", "type": "quantitative", "scale": {"domain": [0.5, 12.5]}, "axis": {"orient": "bottom", "values": [1,2,3,4,5,6,7,8,9,10,11,12], "labelExpr": "['J','F','M','A','M','J','J','A','S','O','N','D'][datum.value-1]", "ticks": false, "tickSize": 0, "domain": false, "labelFlush": false, "labelOverlap": false, "labelFontSize": 13, "labelColor": "#222222", "labelPadding": 5, "title": null, "zindex": 0}}, "y": {"datum": 0, "type": "quantitative", "scale": {"domain": [0, 1]}, "axis": null}, "y2": {"datum": 1}}},
    {"data": {"name": "frostD"}, "mark": {"type": "rect", "fill": "#33BFB6", "stroke": "#222222", "strokeWidth": 1, "xOffset": -19.375, "x2Offset": 19.375}, "encoding": {"x": {"field": "m", "type": "quantitative", "scale": {"domain": [0.5, 12.5]}}, "x2": {"field": "m"}, "y": {"datum": 0, "type": "quantitative", "scale": {"domain": [0, 1]}, "axis": null}, "y2": {"datum": 1}}}
   ]}
  ]}
 ]}
]
}
